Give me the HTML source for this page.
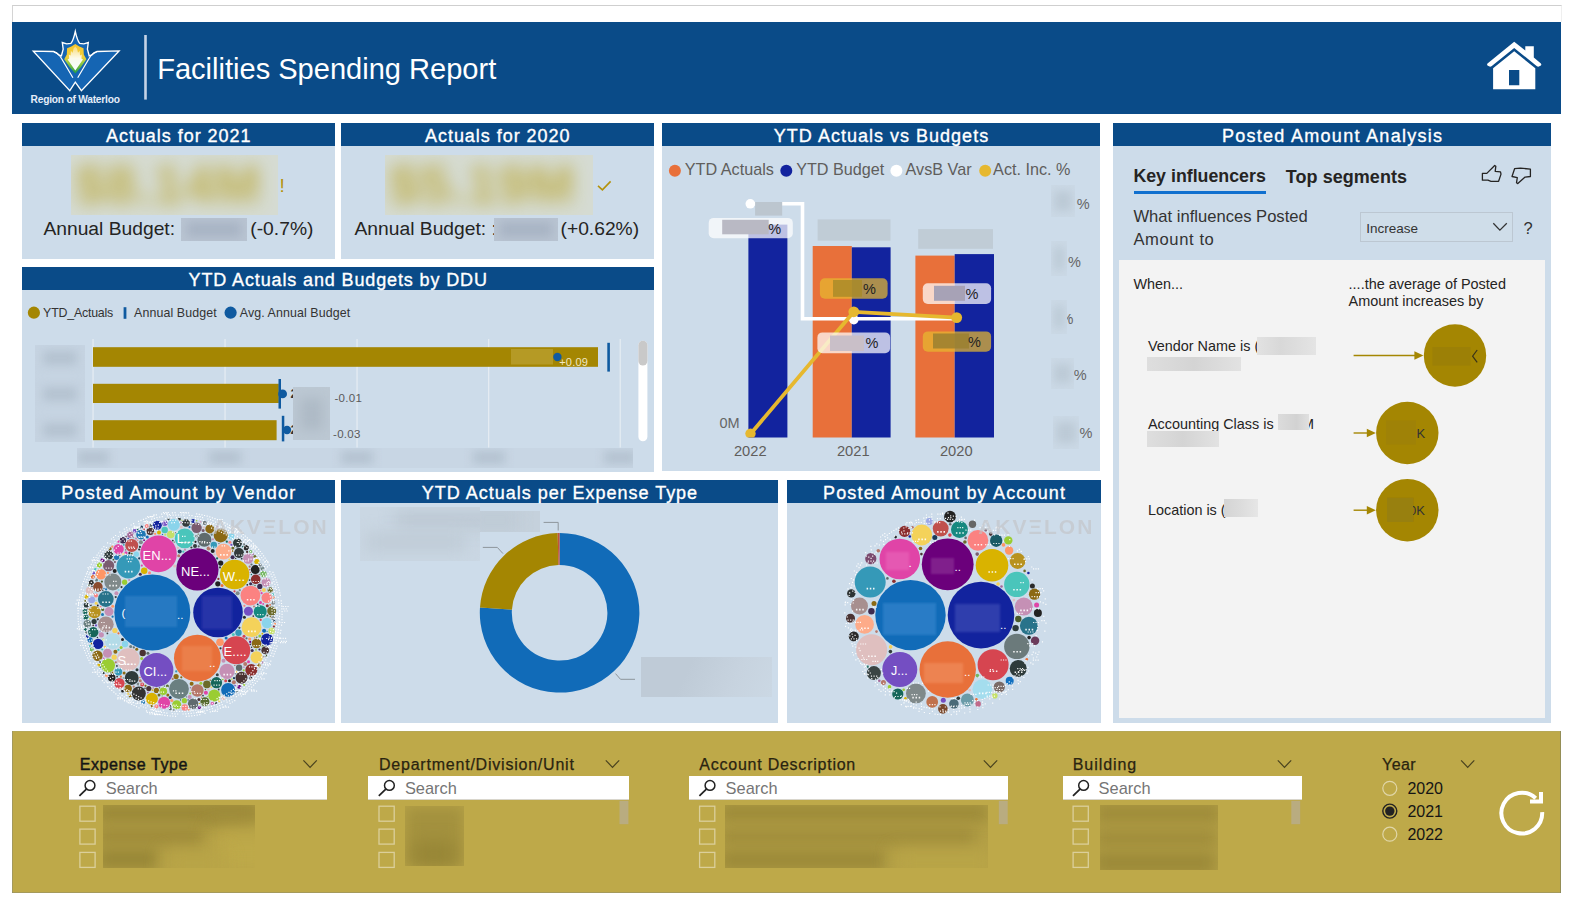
<!DOCTYPE html>
<html>
<head>
<meta charset="utf-8">
<title>Facilities Spending Report</title>
<style>
*{box-sizing:border-box;margin:0;padding:0}
html,body{width:1570px;height:905px;background:#fff;overflow:hidden;font-family:"Liberation Sans",sans-serif;}
.abs{position:absolute}
#frame{position:absolute;left:12px;top:5px;width:1550px;height:17px;border-top:1px solid #cfcfcf;border-left:1px solid #d4d4d4;border-right:1px solid #efefef;background:#fff}
#hdr{position:absolute;left:12px;top:22px;width:1549px;height:92px;background:#0a4b88}
.panel{position:absolute;background:#cddcea}
.ptitle{position:absolute;left:0;top:0;right:0;height:22.5px;background:#0a4b88;color:#fff;font-size:18px;line-height:26px;text-align:center;letter-spacing:0.85px;white-space:nowrap;-webkit-text-stroke:0.35px #fff}
.t{position:absolute;white-space:nowrap;line-height:1}
.blur{position:absolute;overflow:hidden}
#gold{position:absolute;left:12px;top:731px;width:1549px;height:162.3px;background:#bea949;box-shadow:inset 1px 0 0 rgba(140,140,110,.55),inset -1px 0 0 rgba(120,125,95,.6),inset 0 -1px 0 rgba(140,140,110,.5),inset 0 1px 0 rgba(170,165,110,.35)}
</style>
</head>
<body>
<div id="frame"></div>
<div id="hdr">
<svg class="abs" style="left:0;top:0" width="160" height="92" viewBox="12 22 160 92">
  <!-- W logo -->
  <defs>
    <linearGradient id="lg1" x1="0" y1="0" x2="0" y2="1"><stop offset="0" stop-color="#f6c52e"/><stop offset=".45" stop-color="#f1cf3a"/><stop offset=".62" stop-color="#9ccb3f"/><stop offset="1" stop-color="#1f9d4a"/></linearGradient>
    <linearGradient id="lg2" x1="0" y1="0" x2="0" y2="1"><stop offset="0" stop-color="#fff" stop-opacity=".35"/><stop offset=".5" stop-color="#fff" stop-opacity=".9"/><stop offset="1" stop-color="#fff"/></linearGradient>
  </defs>
  <path d="M33.3 51.1 L53.5 51.5 Q57 52.6 58.9 55 L61.4 55.8 L63.2 49.2 L62.3 42.5 L66.7 43.9 L70.9 43.4 Q73.4 40.4 75.3 31.4 Q77.2 40.4 79.7 43.4 L83.9 43.9 L88.3 42.5 L87.4 49.2 L89.2 55.8 L91.7 55 Q93.6 52.6 97.1 51.5 L119.1 50.9 L81.4 90.6 L75.3 82.1 L69.8 90.6 Z" fill="#1565b3" stroke="#fff" stroke-width="1.35" stroke-linejoin="miter" stroke-miterlimit="6"/>
  <path d="M54 52 Q58.8 53.4 61.5 58.5 L72.9 77.7" fill="none" stroke="#fff" stroke-width="1.2"/>
  <path d="M96.6 52 Q91.8 53.4 89.1 58.5 L77.7 77.7" fill="none" stroke="#fff" stroke-width="1.2"/>
  <path d="M75.3 44 L71.3 46.4 L67.1 48.3 L66.8 54.6 L64.2 59.3 L69.8 67.2 L75.3 73.6 L80.8 67.2 L86.4 59.3 L83.8 54.6 L83.5 48.3 L79.3 46.4 Z" fill="url(#lg1)"/>
  <path d="M75.3 70.6 L67.6 59.6 L69.2 58.4 L68.8 54.5 L70.6 55.5 L70.9 50.8 L72.6 52.8 L73.6 48.6 L75.3 46.5 L77 48.6 L78 52.8 L79.7 50.8 L80 55.5 L81.8 54.5 L81.4 58.4 L83 59.6 Z" fill="url(#lg2)"/>
  <rect x="144.2" y="35" width="2.6" height="64.6" fill="#c5d3e6"/>
</svg>
<div class="t" style="left:18.6px;top:72.6px;font-size:10.2px;font-weight:bold;color:#e6eefa;letter-spacing:-0.22px">Region of Waterloo</div>
<div class="t" style="left:145.2px;top:32.9px;font-size:29.05px;color:#fff">Facilities Spending Report</div>
<svg class="abs" style="left:1470px;top:8px" width="80" height="70" viewBox="1482 30 80 70">
  <path d="M1514.2 41.8 L1525.3 50.6 L1525.3 46.2 L1533.8 46.2 L1533.8 57.4 L1540.9 63.6 Q1541.9 64.8 1540.5 65.8 L1538.8 66.6 Q1537.6 66.8 1536.6 66 L1514.2 47.9 L1491.8 66 Q1490.8 66.8 1489.6 66.6 L1487.9 65.8 Q1486.5 64.8 1487.5 63.6 Z" fill="#fff"/>
  <path d="M1514.2 51.2 L1535.3 68.3 L1535.3 89.2 L1493.1 89.2 L1493.1 68.3 Z M1509 70 L1509 85.3 L1519.3 85.3 L1519.3 70 Z" fill="#fff" fill-rule="evenodd"/>
</svg>
</div>

<!-- PANELS -->
<div class="panel" id="p1" style="left:22px;top:123px;width:312.5px;height:136px"><div class="ptitle" style="letter-spacing:0.96px;padding-left:0.96px">Actuals for 2021</div>
<div class="blur" style="left:49px;top:31.5px;width:207px;height:60px;background:#d5dbd2"><div class="t" style="left:4px;top:2px;font-size:54px;font-weight:bold;color:#bba83a;filter:blur(8.5px);opacity:.85;letter-spacing:1px">$8.14M</div></div>
<div class="t" style="left:257.5px;top:52.5px;font-size:19px;color:#b4920a">!</div>
<div class="t" style="left:21.4px;top:95.8px;font-size:19.25px;color:#252423">Annual Budget:</div>
<div class="blur" style="left:159px;top:95px;width:66px;height:23px;background:#b9c4d2"><div class="abs" style="left:6px;top:4px;width:54px;height:15px;background:#a8b4c4;filter:blur(5px)"></div></div>
<div class="t" style="left:228.3px;top:95.8px;font-size:19.25px;color:#252423">(-0.7%)</div>
</div>
<div class="panel" id="p2" style="left:341px;top:123px;width:312.5px;height:136px"><div class="ptitle" style="letter-spacing:0.96px;padding-left:0.96px">Actuals for 2020</div>
<div class="blur" style="left:44px;top:32px;width:208px;height:60px;background:#d5dbd2"><div class="t" style="left:4px;top:2px;font-size:54px;font-weight:bold;color:#bba83a;filter:blur(8.5px);opacity:.85;letter-spacing:1px">$5.19M</div></div>
<svg class="abs" style="left:255.5px;top:57px" width="16" height="12" viewBox="0 0 16 12"><path d="M1 5.8 L5.4 9.8 L13.6 1.4" fill="none" stroke="#b4920a" stroke-width="1.6"/></svg>
<div class="t" style="left:13.5px;top:95.8px;font-size:19.25px;color:#252423">Annual Budget: :</div>
<div class="blur" style="left:153px;top:95px;width:64px;height:23px;background:#b9c4d2"><div class="abs" style="left:6px;top:4px;width:52px;height:15px;background:#a8b4c4;filter:blur(5px)"></div></div>
<div class="t" style="left:219.5px;top:95.8px;font-size:19.25px;color:#252423">(+0.62%)</div>
</div>
<div class="panel" id="p3" style="left:662px;top:123px;width:438px;height:348px"><div class="ptitle" style="letter-spacing:1.01px;padding-left:1.01px">YTD Actuals vs Budgets</div>
<svg class="abs" style="left:0;top:0" width="438" height="348" viewBox="662 123 438 348">
<circle cx="674.9" cy="170.8" r="6" fill="#e8703a"/>
<circle cx="786.3" cy="170.8" r="6" fill="#12239e"/>
<circle cx="896.4" cy="170.8" r="6" fill="#fff"/>
<circle cx="985.2" cy="170.8" r="6" fill="#e6b82f"/>
<rect x="748.4" y="224.6" width="39" height="212.9" fill="#12239e"/>
<rect x="812.7" y="246" width="39.1" height="191.5" fill="#e8703a"/>
<rect x="851.8" y="247.3" width="38.8" height="190.2" fill="#12239e"/>
<rect x="915.4" y="255.6" width="39.3" height="181.9" fill="#e8703a"/>
<rect x="954.7" y="254.1" width="39.3" height="183.4" fill="#12239e"/>
<rect x="817.6" y="219.4" width="72.9" height="21.3" fill="#c0ccd6"/>
<rect x="918.2" y="229.1" width="74.8" height="19.7" fill="#c0ccd6"/>
<path d="M750.3 203.8 L802.5 203.8 L802.5 318.8 L957 318.8" fill="none" stroke="#fff" stroke-width="3.6" stroke-linejoin="miter"/>
<circle cx="750.3" cy="203.8" r="4.8" fill="#fff"/>
<circle cx="853.8" cy="319.6" r="4.8" fill="#fff"/>
<rect x="755.1" y="202" width="27.1" height="13.6" fill="#bcc6cf"/>
<clipPath id="cpb"><rect x="662" y="150" width="438" height="287.6"/></clipPath><path d="M750.5 434 L853.8 311.8 L956.7 317.6" fill="none" stroke="#e6b82f" stroke-width="3.8" stroke-linejoin="round"/>
<circle cx="750.5" cy="433.6" r="5.2" fill="#e6b82f" clip-path="url(#cpb)"/>
<circle cx="853.8" cy="311.8" r="5.4" fill="#e6b82f"/>
<circle cx="956.7" cy="317.6" r="5.4" fill="#e6b82f"/>
<rect x="708.7" y="217.9" width="84.1" height="20.3" rx="5" fill="#fff" fill-opacity=".72"/>
<rect x="722.2" y="219.8" width="46.5" height="14.5" fill="#b9b9c4"/>
<rect x="819.9" y="278.2" width="67.7" height="20.5" rx="5" fill="#e6b82f" fill-opacity=".72"/>
<rect x="833" y="280" width="29" height="16.8" fill="#a88a28" fill-opacity=".8"/>
<rect x="922.8" y="283.3" width="68.3" height="20.7" rx="5" fill="#fff" fill-opacity=".72"/>
<rect x="934" y="285.8" width="31" height="15" fill="#a7a2b6"/>
<rect x="817.4" y="332.4" width="72.7" height="20.9" rx="5" fill="#fff" fill-opacity=".72"/>
<rect x="830" y="335.5" width="34" height="15.5" fill="#c9bfc8"/>
<rect x="922.8" y="331.4" width="68.3" height="20.3" rx="5" fill="#e6b82f" fill-opacity=".72"/>
<rect x="933" y="333.5" width="36" height="15" fill="#9a8030" fill-opacity=".85"/>
</svg>
<div class="t" style="left:22.8px;top:38.1px;font-size:16.2px;color:#605e5c">YTD Actuals</div>
<div class="t" style="left:134.2px;top:38.1px;font-size:16.2px;color:#605e5c">YTD Budget</div>
<div class="t" style="left:243.6px;top:38.1px;font-size:16.2px;color:#605e5c">AvsB Var</div>
<div class="t" style="left:331.1px;top:38.1px;font-size:16.2px;color:#605e5c">Act. Inc. %</div>
<div class="t" style="left:106.2px;top:99px;font-size:14.5px;color:#222">%</div>
<div class="t" style="left:201px;top:158.5px;font-size:14.5px;color:#222">%</div>
<div class="t" style="left:303.5px;top:164px;font-size:14.5px;color:#222">%</div>
<div class="t" style="left:203.5px;top:213px;font-size:14.5px;color:#222">%</div>
<div class="t" style="left:306px;top:212px;font-size:14.5px;color:#222">%</div>
<div class="t" style="left:57.5px;top:293px;font-size:14.5px;color:#666">0M</div>
<div class="t" style="left:71.3px;top:321.3px;width:34px;text-align:center;font-size:14.7px;color:#605e5c">2022</div>
<div class="t" style="left:174.3px;top:321.3px;width:34px;text-align:center;font-size:14.7px;color:#605e5c">2021</div>
<div class="t" style="left:277.3px;top:321.3px;width:34px;text-align:center;font-size:14.7px;color:#605e5c">2020</div>
<div class="t" style="left:414.8px;top:74.4px;font-size:14.5px;color:#666">%</div>
<div class="blur" style="left:388.7px;top:61.8px;width:24.7px;height:32.1px;background:#cbd9e6"><div class="abs" style="left:3px;top:6px;width:18.7px;height:20.1px;background:#bccad6;filter:blur(4px)"></div></div>
<div class="t" style="left:406px;top:131.5px;font-size:14.5px;color:#666">%</div>
<div class="blur" style="left:388.7px;top:118px;width:16.6px;height:35px;background:#cbd9e6"><div class="abs" style="left:3px;top:6px;width:10.6px;height:23px;background:#bccad6;filter:blur(4px)"></div></div>
<div class="t" style="left:398.5px;top:189.2px;font-size:14.5px;color:#666">%</div>
<div class="blur" style="left:388.7px;top:177px;width:16.6px;height:34px;background:#cbd9e6"><div class="abs" style="left:3px;top:6px;width:10.6px;height:22px;background:#bccad6;filter:blur(4px)"></div></div>
<div class="t" style="left:411.8px;top:245.3px;font-size:14.5px;color:#666">%</div>
<div class="blur" style="left:388.7px;top:235px;width:23.7px;height:30.5px;background:#cbd9e6"><div class="abs" style="left:3px;top:6px;width:17.7px;height:18.5px;background:#bccad6;filter:blur(4px)"></div></div>
<div class="t" style="left:417.6px;top:303.1px;font-size:14.5px;color:#666">%</div>
<div class="blur" style="left:391px;top:292.7px;width:25.6px;height:33.7px;background:#cbd9e6"><div class="abs" style="left:3px;top:6px;width:19.6px;height:21.7px;background:#bccad6;filter:blur(4px)"></div></div>
</div>
<div class="panel" id="p4" style="left:1113px;top:123px;width:438px;height:600px"><div class="ptitle" style="letter-spacing:1.29px;padding-left:1.29px">Posted Amount Analysis</div>
<div class="abs" style="left:6px;top:137.4px;width:426.29999999999995px;height:457.20000000000005px;background:#f3f3f3"></div>
<div class="t" style="left:20.4px;top:45.4px;font-size:17.8px;font-weight:bold;color:#252423">Key influencers</div>
<div class="abs" style="left:20.6px;top:68px;width:132.6px;height:2.8px;background:#1170cf"></div>
<div class="t" style="left:172.8px;top:45.4px;font-size:18px;font-weight:bold;color:#252423;letter-spacing:.05px">Top segments</div>
<div class="t" style="left:20.4px;top:86.0px;font-size:16.6px;color:#333">What influences Posted</div>
<div class="t" style="left:20.4px;top:109.1px;font-size:16.6px;color:#333;letter-spacing:.6px">Amount to</div>
<div class="abs" style="left:247.4px;top:88.8px;width:152.3px;height:30.4px;border:1px solid #bcc7d2;background:#cfdde9"></div>
<div class="t" style="left:253.2px;top:98.8px;font-size:13.5px;color:#333">Increase</div>
<div class="t" style="left:410.6px;top:97.4px;font-size:16.5px;color:#333">?</div>
<svg class="abs" style="left:0;top:0" width="438" height="600" viewBox="1113 123 438 600">
<path d="M1482.4 180.2 L1482.4 173.4 L1486.8 173.4 L1494.7 165.5 L1495.8 166.3 L1495.2 171.3 L1500.5 171.8 L1501 174.1 L1498.6 181.3 L1491 181.3 L1487.9 180.2 Z" fill="none" stroke="#252423" stroke-width="1.3" stroke-linejoin="round"/>
<path d="M1512 176.5 L1514.6 168.7 L1520.4 168.1 L1530.4 169.2 L1530.4 176.5 L1525.1 177.1 L1517.8 183.6 L1516.5 182.8 L1517.3 177.6 Z" fill="none" stroke="#252423" stroke-width="1.3" stroke-linejoin="round"/>
<path d="M1493.3 223.3 L1499.9 230.1 L1506.8 223.3" fill="none" stroke="#333" stroke-width="1.3"/>
<path d="M1353.6 355.5 L1417.4 355.5" stroke="#a48602" stroke-width="1.4" fill="none"/><path d="M1423.4 355.5 L1414.4 351.3 L1414.4 359.7 Z" fill="#a48602"/>
<path d="M1353.6 433 L1369.8 433" stroke="#a48602" stroke-width="1.4" fill="none"/><path d="M1375.8 433 L1366.8 428.8 L1366.8 437.2 Z" fill="#a48602"/>
<path d="M1353.6 510.2 L1369.8 510.2" stroke="#a48602" stroke-width="1.4" fill="none"/><path d="M1375.8 510.2 L1366.8 506.0 L1366.8 514.4 Z" fill="#a48602"/>
<circle cx="1455" cy="355.5" r="31.2" fill="#a48602"/>
<circle cx="1407.3" cy="433" r="31.2" fill="#a48602"/>
<circle cx="1407.3" cy="510.2" r="31.2" fill="#a48602"/>
<rect x="1432.5" y="347" width="38" height="18.5" fill="#9a7e08" fill-opacity=".75"/><path d="M1477.2 350 L1472.6 356.2 L1477.2 362.4" fill="none" stroke="#3a3418" stroke-width="1.2"/>
<rect x="1386" y="420.5" width="30" height="24" fill="#9c800a" fill-opacity=".7"/>
<rect x="1387.2" y="497.7" width="26.3" height="24.2" fill="#94790a" fill-opacity=".85"/>
</svg>

<div class="t" style="left:303.6px;top:303.5px;font-size:13px;color:#333">K</div>
<div class="t" style="left:296px;top:380.6px;font-size:13px;color:#333">0K</div>
<div class="abs" style="left:274.2px;top:374.7px;width:26.3px;height:24.2px;background:#98800f"></div>
<div class="t" style="left:20.4px;top:153.6px;font-size:14.4px;color:#252423">When...</div>
<div class="t" style="left:235.6px;top:153.6px;font-size:14.45px;color:#252423">....the average of Posted</div>
<div class="t" style="left:235.6px;top:170.6px;font-size:14.45px;color:#252423">Amount increases by</div>
<div class="t" style="left:35px;top:216.3px;font-size:14.4px;color:#252423">Vendor Name is (</div>
<div class="abs" style="left:144px;top:213.8px;width:58.8px;height:18.7px;background:linear-gradient(90deg,#e2e2e2,#d8d8d8 40%,#e4e4e4)"></div>
<div class="abs" style="left:33.8px;top:233.7px;width:94.2px;height:13.9px;background:linear-gradient(90deg,#dedede,#d4d4d4 50%,#e2e2e2)"></div>
<div class="t" style="left:35px;top:294px;font-size:14.4px;color:#252423">Accounting Class is</div>
<div class="t" style="left:189px;top:294px;font-size:14.4px;color:#252423">M</div>
<div class="abs" style="left:165px;top:290.6px;width:30.7px;height:16.7px;background:linear-gradient(90deg,#dcdcdc,#d2d2d2 60%,#e0e0e0)"></div>
<div class="abs" style="left:33.8px;top:308px;width:72.4px;height:16px;background:linear-gradient(90deg,#dedede,#d4d4d4 50%,#e2e2e2)"></div>
<div class="t" style="left:35px;top:379.8px;font-size:14.4px;color:#252423">Location is (</div>
<div class="abs" style="left:111px;top:375.7px;width:33.5px;height:18.5px;background:linear-gradient(90deg,#d4d4d4,#dcdcdc 50%,#e6e6e6)"></div>
</div>
<div class="panel" id="p5" style="left:22px;top:267px;width:631.5px;height:205px"><div class="ptitle" style="letter-spacing:0.87px;padding-left:0.87px">YTD Actuals and Budgets by DDU</div>
<svg class="abs" style="left:0;top:0" width="631.5" height="205" viewBox="22 267 631.5 205">
<circle cx="33.9" cy="312.7" r="6.1" fill="#a48602"/>
<rect x="123.6" y="307.2" width="2.8" height="11.6" fill="#0f5aa0"/>
<circle cx="230.6" cy="312.7" r="6.1" fill="#0f5aa0"/>
<rect x="92.4" y="339" width="1.3" height="108.5" fill="#e4ebf2"/>
<rect x="224.4" y="339" width="1.3" height="108.5" fill="#e4ebf2"/>
<rect x="356.4" y="339" width="1.3" height="108.5" fill="#e4ebf2"/>
<rect x="488.0" y="339" width="1.3" height="108.5" fill="#e4ebf2"/>
<rect x="619.6" y="339" width="1.3" height="108.5" fill="#e4ebf2"/>
<rect x="93" y="347.2" width="505" height="19.6" fill="#a48602"/>
<rect x="93" y="383.8" width="185.8" height="19.2" fill="#a48602"/>
<rect x="93" y="420.2" width="183.6" height="20" fill="#a48602"/>
<rect x="511" y="349" width="42" height="15.5" fill="#b59a25"/>
<rect x="607.3" y="342.8" width="2.6" height="28.8" fill="#0f5aa0"/>
<circle cx="557.4" cy="357" r="4.2" fill="#0f5aa0"/>
<rect x="278.5" y="379" width="2.5" height="29.6" fill="#0f5aa0"/>
<circle cx="282.6" cy="393.9" r="4.4" fill="#0f5aa0"/>
<rect x="281.8" y="415.8" width="2.5" height="25.6" fill="#0f5aa0"/>
<circle cx="287" cy="430" r="4.2" fill="#0f5aa0"/>
<rect x="638.4" y="340.8" width="9" height="100.4" rx="4.5" fill="#fff"/>
<rect x="638.4" y="340.8" width="9" height="24.8" rx="4.5" fill="#c9c9c9"/>
</svg>
<div class="t" style="left:21.1px;top:40px;font-size:12.4px;color:#333;letter-spacing:-.22px">YTD_Actuals</div>
<div class="t" style="left:112.1px;top:40px;font-size:12.4px;color:#333;letter-spacing:.1px">Annual Budget</div>
<div class="t" style="left:217.8px;top:40px;font-size:12.4px;color:#333;letter-spacing:.1px">Avg. Annual Budget</div>
<div class="t" style="left:537.2px;top:89.5px;font-size:11px;color:#f1e8c4;letter-spacing:.2px">+0.09</div>
<div class="t" style="left:268.5px;top:120px;font-size:13px;font-weight:bold;color:#333">2</div>
<div class="t" style="left:268.5px;top:156px;font-size:13px;font-weight:bold;color:#333">2</div>
<div class="t" style="left:312.4px;top:126px;font-size:11.5px;color:#5a5a5a;letter-spacing:.3px">-0.01</div>
<div class="t" style="left:311px;top:162px;font-size:11.5px;color:#5a5a5a;letter-spacing:.3px">-0.03</div>
<div class="blur" style="left:271px;top:120.2px;width:36.8px;height:53.1px;background:#bcc8d3"><div class="abs" style="left:6.6px;top:10.6px;width:23.6px;height:31.9px;background:#aebac6;filter:blur(6px)"></div></div>
<div class="blur" style="left:13px;top:77.8px;width:50px;height:97.6px;background:#c6d4e2"><div class="abs" style="left:8px;top:6px;width:34px;height:14px;background:#b4c2d0;filter:blur(5px)"></div><div class="abs" style="left:8px;top:42px;width:34px;height:14px;background:#b4c2d0;filter:blur(5px)"></div><div class="abs" style="left:8px;top:78px;width:34px;height:14px;background:#b4c2d0;filter:blur(5px)"></div></div>
<div class="blur" style="left:55.3px;top:181px;width:555.3px;height:19.6px;background:#c8d6e4"><div class="abs" style="left:-0.3px;top:3px;width:32px;height:13px;background:#b4c2d0;filter:blur(5px)"></div><div class="abs" style="left:131.7px;top:3px;width:32px;height:13px;background:#b4c2d0;filter:blur(5px)"></div><div class="abs" style="left:263.7px;top:3px;width:32px;height:13px;background:#b4c2d0;filter:blur(5px)"></div><div class="abs" style="left:395.3px;top:3px;width:32px;height:13px;background:#b4c2d0;filter:blur(5px)"></div><div class="abs" style="left:526.9px;top:3px;width:32px;height:13px;background:#b4c2d0;filter:blur(5px)"></div></div>
</div>
<div class="panel" id="p6" style="left:22px;top:480px;width:312.5px;height:243px"><div class="ptitle" style="letter-spacing:1.17px;padding-left:1.17px">Posted Amount by Vendor</div>
<!--Bp6--><svg class="abs" style="left:0;top:0" width="312.5" height="243" viewBox="22 480 312.5 243"><circle cx="152.3" cy="612.5" r="38" fill="#116bb8"/><circle cx="218" cy="612.5" r="24.8" fill="#12239e"/><circle cx="197.4" cy="658.2" r="23.4" fill="#e8703a"/><circle cx="197.4" cy="569.4" r="21.1" fill="#6b007b"/><circle cx="158.5" cy="553.9" r="18.3" fill="#e044a7"/><circle cx="156.5" cy="670" r="16.9" fill="#744ec2"/><circle cx="234.6" cy="574.5" r="14.7" fill="#d9b300"/><circle cx="236.3" cy="650.3" r="14" fill="#d64550"/><circle cx="128.3" cy="566.6" r="11.8" fill="#3599b8"/><circle cx="128.3" cy="659.6" r="11.3" fill="#dfbfbf"/><circle cx="184.7" cy="538.4" r="9.9" fill="#4ac5bb"/><circle cx="204.4" cy="539.8" r="7" fill="#5f6b6d"/><circle cx="250.4" cy="595.6" r="9.9" fill="#fb8281"/><circle cx="251.5" cy="627.2" r="9.9" fill="#f4d25a"/><circle cx="223.6" cy="551.6" r="7.9" fill="#fdab89"/><circle cx="112.8" cy="582" r="8.5" fill="#7f898a"/><circle cx="105.8" cy="599" r="7.9" fill="#28738a"/><circle cx="105.8" cy="624.3" r="7.9" fill="#a78f8f"/><circle cx="112.8" cy="641.2" r="7.9" fill="#b3dbe8"/><circle cx="179" cy="689" r="9.9" fill="#6a7f80"/><circle cx="197.4" cy="690.5" r="6.2" fill="#b6776a"/><circle cx="131.7" cy="677.9" r="7" fill="#2e3b3b"/><circle cx="227" cy="671.4" r="7.6" fill="#c590b5"/><circle cx="216.5" cy="682.7" r="5.6" fill="#16665a"/><circle cx="260.2" cy="611.7" r="6.5" fill="#168980"/><circle cx="131.7" cy="545.4" r="6.5" fill="#c0504d"/><circle cx="141" cy="534.7" r="4.8" fill="#1f77b4"/><circle cx="239" cy="553" r="5" fill="#333b3b"/><circle cx="255.7" cy="579.3" r="4.8" fill="#8b2e2e"/><circle cx="256.5" cy="643.5" r="4.8" fill="#8b6914"/><circle cx="94.5" cy="612.2" r="6.2" fill="#b8921e"/><circle cx="97.9" cy="586.9" r="4.8" fill="#8b4a2e"/><circle cx="108.6" cy="565.7" r="5.6" fill="#7a5c6e"/><circle cx="91.7" cy="599.8" r="3.4" fill="#9ba8e6"/><circle cx="108.0" cy="665.5" r="7" fill="#9acd32"/><circle cx="228.1" cy="689.9" r="7" fill="#116bb8"/><circle cx="220.7" cy="535.4" r="7" fill="#8b6914"/><circle cx="138.8" cy="693.5" r="7" fill="#333"/><circle cx="173.8" cy="524.7" r="6" fill="#8ad4eb"/><circle cx="256.6" cy="657.3" r="6" fill="#f4d25a"/><circle cx="164.1" cy="702.8" r="6" fill="#e044a7"/><circle cx="151.9" cy="698.7" r="6" fill="#d9b300"/><circle cx="214.3" cy="695.6" r="6" fill="#9acd32"/><circle cx="267.0" cy="639.4" r="6" fill="#12239e"/><circle cx="241.5" cy="677.8" r="6" fill="#4a3333"/><circle cx="251.3" cy="669.9" r="6" fill="#8b2e2e"/><circle cx="248.2" cy="558.6" r="5.2" fill="#c590b5"/><circle cx="118.6" cy="549.1" r="5.2" fill="#e044a7"/><circle cx="193.1" cy="703.7" r="5.2" fill="#5f6b6d"/><circle cx="97.5" cy="655.8" r="5.2" fill="#8b6914"/><circle cx="100.9" cy="574.3" r="5.2" fill="#fe9666"/><circle cx="93.3" cy="632.1" r="5.2" fill="#16665a"/><circle cx="119.4" cy="683.3" r="5.2" fill="#d64550"/><circle cx="267.0" cy="623.0" r="5.2" fill="#8ad4eb"/><circle cx="196.6" cy="527.8" r="5.2" fill="#7a5c6e"/><circle cx="98.1" cy="643.9" r="5.2" fill="#12239e"/><circle cx="266.7" cy="597.8" r="5.2" fill="#fb8281"/><circle cx="209.8" cy="528.9" r="4.5" fill="#8b6914"/><circle cx="108.7" cy="555.0" r="4.5" fill="#2e3b3b"/><circle cx="157.3" cy="525.3" r="4.5" fill="#12239e"/><circle cx="237.5" cy="543.0" r="4.5" fill="#2e3b3b"/><circle cx="266.1" cy="582.2" r="4.5" fill="#c590b5"/><circle cx="255.3" cy="569.6" r="4.5" fill="#222"/><circle cx="271.7" cy="611.0" r="4.5" fill="#6b6b2a"/><circle cx="204.9" cy="701.7" r="4.5" fill="#556b2f"/><circle cx="248.4" cy="611.3" r="4.5" fill="#744ec2"/><circle cx="176.7" cy="704.7" r="4.5" fill="#9acd32"/><circle cx="107.5" cy="653.2" r="4.5" fill="#c590b5"/><circle cx="109.0" cy="611.6" r="4.5" fill="#c590b5"/><circle cx="89.6" cy="590.6" r="3.8" fill="#dfbfbf"/><circle cx="265.2" cy="650.2" r="3.8" fill="#4a3333"/><circle cx="118.4" cy="671.7" r="3.8" fill="#3599b8"/><circle cx="206.9" cy="684.4" r="3.8" fill="#6b6b2a"/><circle cx="87.3" cy="623.8" r="3.8" fill="#6a7f80"/><circle cx="186.0" cy="523.0" r="3.8" fill="#333b3b"/><circle cx="163.3" cy="691.2" r="3.8" fill="#9acd32"/><circle cx="150.3" cy="531.3" r="3.8" fill="#4a3333"/><circle cx="170.7" cy="534.5" r="3.8" fill="#c5e06a"/><circle cx="111.7" cy="677.8" r="3.8" fill="#222"/><circle cx="220.0" cy="642.2" r="3.8" fill="#fe9666"/><circle cx="128.1" cy="688.5" r="3.8" fill="#8b6914"/><circle cx="238.5" cy="632.8" r="3.2" fill="#3599b8"/><circle cx="239.1" cy="667.7" r="3.2" fill="#5f6b6d"/><circle cx="213.8" cy="545.0" r="3.2" fill="#3599b8"/><circle cx="144.2" cy="570.7" r="3.2" fill="#d9b300"/><circle cx="164.7" cy="530.0" r="3.2" fill="#4ac5bb"/><circle cx="142.7" cy="653.0" r="3.2" fill="#4a3333"/><circle cx="184.8" cy="707.5" r="3.2" fill="#fb8281"/><circle cx="130.4" cy="534.8" r="3.2" fill="#a66999"/><circle cx="271.6" cy="630.9" r="3.2" fill="#c5e06a"/><circle cx="125.0" cy="644.0" r="3.2" fill="#8ad4eb"/><circle cx="263.5" cy="574.1" r="3.2" fill="#73b761"/><circle cx="231.5" cy="536.6" r="3.2" fill="#8ad4eb"/><circle cx="123.0" cy="540.3" r="3.2" fill="#3d2b4f"/><circle cx="86.3" cy="605.1" r="2.6" fill="#2e3b3b"/><circle cx="90.1" cy="639.8" r="2.6" fill="#116bb8"/><circle cx="217.8" cy="583.8" r="2.6" fill="#222"/><circle cx="85.9" cy="617.1" r="2.6" fill="#16665a"/><circle cx="148.8" cy="688.6" r="2.6" fill="#4a3333"/><circle cx="259.8" cy="586.4" r="2.6" fill="#3d2b4f"/><circle cx="220.7" cy="563.1" r="2.6" fill="#222"/><circle cx="91.3" cy="582.6" r="2.6" fill="#333"/><circle cx="136.4" cy="554.2" r="2.6" fill="#8ad4eb"/><circle cx="184.4" cy="700.7" r="2.6" fill="#9acd32"/><circle cx="270.2" cy="589.9" r="2.6" fill="#6b6b2a"/><circle cx="101.3" cy="634.8" r="2.6" fill="#c590b5"/><circle cx="164.8" cy="523.2" r="2.6" fill="#744ec2"/><circle cx="176.1" cy="676.5" r="2.6" fill="#8b6914"/><circle cx="246.2" cy="547.7" r="2.6" fill="#2a2a2a"/><circle cx="99.5" cy="565.1" r="2.6" fill="#9acd32"/><circle cx="156.4" cy="690.4" r="2.6" fill="#8b6914"/><circle cx="114.9" cy="630.5" r="2.6" fill="#f4d25a"/><circle cx="124.6" cy="582.2" r="2.6" fill="#9acd32"/><circle cx="114.2" cy="657.2" r="2.6" fill="#f4d25a"/><circle cx="85.2" cy="611.4" r="2.6" fill="#16665a"/><circle cx="116.6" cy="557.3" r="2.6" fill="#1f77b4"/><circle cx="256.8" cy="561.5" r="2.6" fill="#d9b300"/><circle cx="94.1" cy="621.5" r="2.6" fill="#2e3b3b"/><circle cx="273.2" cy="602.8" r="2.0" fill="#7f898a"/><circle cx="263.9" cy="590.0" r="2.0" fill="#f4d25a"/><circle cx="212.7" cy="550.9" r="2.0" fill="#222"/><circle cx="191.6" cy="683.7" r="2.0" fill="#8b6914"/><circle cx="237.6" cy="593.3" r="2.0" fill="#7f898a"/><circle cx="116.4" cy="593.3" r="2.0" fill="#c590b5"/><circle cx="264.1" cy="630.8" r="2.0" fill="#116bb8"/><circle cx="195.0" cy="546.0" r="2.0" fill="#333b3b"/><circle cx="179.7" cy="551.5" r="2.0" fill="#1a3a5a"/><circle cx="245.2" cy="664.0" r="2.0" fill="#b6776a"/><circle cx="233.9" cy="682.2" r="2.0" fill="#b6776a"/><circle cx="146.8" cy="526.1" r="2.0" fill="#fb8281"/><circle cx="102.5" cy="560.3" r="2.0" fill="#6b007b"/><circle cx="239.2" cy="686.7" r="2.0" fill="#6b007b"/><circle cx="159.0" cy="532.4" r="2.0" fill="#d9b300"/><circle cx="142.1" cy="684.5" r="2.0" fill="#d64550"/><circle cx="86.4" cy="596.8" r="2.0" fill="#d9b300"/><circle cx="258.9" cy="665.5" r="2.0" fill="#8b6914"/><circle cx="140.9" cy="542.3" r="2.0" fill="#7f898a"/><circle cx="262.2" cy="568.6" r="2.0" fill="#6a7f80"/><circle cx="115.4" cy="651.7" r="2.0" fill="#8b6914"/><circle cx="205.9" cy="692.7" r="2.0" fill="#e044a7"/><circle cx="143.2" cy="702.1" r="2.0" fill="#1f77b4"/><circle cx="189.7" cy="696.9" r="2.0" fill="#c590b5"/><circle cx="204.7" cy="523.1" r="2.0" fill="#5f6b6d"/><circle cx="273.0" cy="618.0" r="2.0" fill="#7f898a"/><circle cx="134.7" cy="530.8" r="2.0" fill="#744ec2"/><circle cx="92.8" cy="576.7" r="2.0" fill="#e8703a"/><circle cx="232.6" cy="557.2" r="2.0" fill="#3d2b4f"/><circle cx="223.5" cy="660.7" r="2.0" fill="#c590b5"/><circle cx="223.1" cy="698.2" r="2.0" fill="#dfbfbf"/><circle cx="193.1" cy="521.1" r="2.0" fill="#12239e"/><circle cx="208.6" cy="548.4" r="2.0" fill="#b6776a"/><circle cx="96.0" cy="595.6" r="2.0" fill="#fb8281"/><circle cx="91.7" cy="649.5" r="2.0" fill="#73b761"/><circle cx="114.7" cy="571.1" r="2.0" fill="#222"/><circle cx="156.4" cy="706.4" r="2.0" fill="#fb8281"/><circle cx="217.3" cy="674.8" r="1.5" fill="#3a4444"/><circle cx="106.3" cy="675.7" r="1.5" fill="#fe9666"/><circle cx="248.5" cy="661.7" r="1.5" fill="#e044a7"/><circle cx="200.9" cy="683.2" r="1.5" fill="#9acd32"/><circle cx="96.5" cy="579.9" r="1.5" fill="#6a7f80"/><circle cx="171.8" cy="700.6" r="1.5" fill="#fe9666"/><circle cx="179.4" cy="519.1" r="1.5" fill="#333b3b"/><circle cx="95.4" cy="569.5" r="1.5" fill="#4ac5bb"/><circle cx="130.7" cy="646.6" r="1.5" fill="#6a7f80"/><circle cx="229.9" cy="542.2" r="1.5" fill="#fb8281"/><circle cx="249.6" cy="639.0" r="1.5" fill="#fe9666"/><circle cx="140.3" cy="574.2" r="1.5" fill="#3d2b4f"/><circle cx="260.5" cy="602.6" r="1.5" fill="#e044a7"/><circle cx="170.4" cy="708.8" r="1.5" fill="#5f6b6d"/><circle cx="167.8" cy="695.0" r="1.5" fill="#8b6914"/><circle cx="150.6" cy="525.5" r="1.5" fill="#5f6b6d"/><circle cx="85.4" cy="629.5" r="1.5" fill="#16665a"/><circle cx="110.2" cy="548.8" r="1.5" fill="#8b6914"/><circle cx="147.9" cy="653.3" r="1.5" fill="#5f6b6d"/><circle cx="199.4" cy="707.4" r="1.5" fill="#6b007b"/><circle cx="250.6" cy="583.7" r="1.5" fill="#3d2b4f"/><circle cx="102.5" cy="614.6" r="1.5" fill="#1f77b4"/><circle cx="203.1" cy="530.6" r="1.5" fill="#7a5c6e"/><circle cx="167.4" cy="686.1" r="1.5" fill="#556b2f"/><circle cx="87.0" cy="636.4" r="1.5" fill="#12239e"/><circle cx="212.3" cy="703.2" r="1.5" fill="#e044a7"/><circle cx="267.3" cy="605.8" r="1.5" fill="#8b2e2e"/><circle cx="259.8" cy="635.9" r="1.5" fill="#9acd32"/><circle cx="226.1" cy="638.1" r="1.5" fill="#116bb8"/><circle cx="250.7" cy="678.1" r="1.5" fill="#222"/><circle cx="102.7" cy="609.4" r="1.5" fill="#556b2f"/><circle cx="137.0" cy="669.7" r="1.5" fill="#2e3b3b"/><circle cx="121.1" cy="647.4" r="1.5" fill="#9acd32"/><circle cx="250.7" cy="551.4" r="1.5" fill="#73b761"/><circle cx="159.0" cy="695.1" r="1.5" fill="#6b6b2a"/><circle cx="232.9" cy="548.1" r="1.5" fill="#6b6b2a"/><circle cx="225.7" cy="680.8" r="1.5" fill="#d64550"/><circle cx="141.5" cy="527.1" r="1.5" fill="#1a3a5a"/><circle cx="98.8" cy="665.1" r="1.5" fill="#d9b300"/><circle cx="122.5" cy="639.4" r="1.5" fill="#222"/><circle cx="222.0" cy="585.4" r="1.5" fill="#e8703a"/><circle cx="126.0" cy="552.7" r="1.5" fill="#e044a7"/><circle cx="93.7" cy="572.9" r="1.5" fill="#744ec2"/><circle cx="124.1" cy="672.9" r="1.5" fill="#8b6914"/><circle cx="181.3" cy="527.1" r="1.5" fill="#dfbfbf"/><circle cx="122.6" cy="690.9" r="1.5" fill="#222"/><circle cx="147.3" cy="537.0" r="1.5" fill="#116bb8"/><circle cx="130.2" cy="696.0" r="1.5" fill="#8b6914"/><circle cx="112.7" cy="606.2" r="1.5" fill="#fe9666"/><circle cx="198.9" cy="699.4" r="1.5" fill="#4a3333"/><circle cx="174.6" cy="566.1" r="1.5" fill="#dfbfbf"/><circle cx="170.2" cy="697.4" r="1.5" fill="#1a3a5a"/><circle cx="136.7" cy="649.3" r="1.5" fill="#8b6914"/><circle cx="252.2" cy="650.6" r="1.5" fill="#3d2b4f"/><circle cx="149.5" cy="572.7" r="1.5" fill="#fb8281"/><circle cx="260.1" cy="565.1" r="1.5" fill="#5f6b6d"/><circle cx="140.3" cy="680.7" r="1.5" fill="#b6776a"/><circle cx="178.7" cy="555.8" r="1.5" fill="#b6776a"/><circle cx="244.4" cy="617.3" r="1.5" fill="#2a2a2a"/><circle cx="229.5" cy="680.8" r="1.5" fill="#222"/><circle cx="244.0" cy="636.3" r="1.5" fill="#d64550"/><circle cx="254.9" cy="556.5" r="1.5" fill="#6b6b2a"/><circle cx="96.2" cy="603.2" r="1.5" fill="#f4d25a"/><circle cx="233.3" cy="634.4" r="1.5" fill="#4ac5bb"/><circle cx="141.7" cy="658.5" r="1.5" fill="#9acd32"/><circle cx="138.1" cy="684.1" r="1.5" fill="#7f898a"/><circle cx="112.6" cy="616.7" r="1.1" fill="#1f77b4"/><circle cx="236.8" cy="691.3" r="1.1" fill="#6a7f80"/><circle cx="196.4" cy="536.2" r="1.1" fill="#3a4444"/><circle cx="218.4" cy="578.9" r="1.1" fill="#8b2e2e"/><circle cx="251.5" cy="564.5" r="1.1" fill="#5f6b6d"/><circle cx="115.7" cy="597.1" r="1.1" fill="#3a4444"/><circle cx="86.3" cy="632.6" r="1.1" fill="#5f6b6d"/><circle cx="236.5" cy="671.8" r="1.1" fill="#f4d25a"/><circle cx="243.9" cy="544.3" r="1.1" fill="#5f6b6d"/><circle cx="189.5" cy="527.1" r="1.1" fill="#116bb8"/><circle cx="118.6" cy="590.1" r="1.1" fill="#8ad4eb"/><circle cx="145.5" cy="685.8" r="1.1" fill="#8b6914"/><circle cx="136.0" cy="538.6" r="1.1" fill="#c590b5"/><circle cx="272.9" cy="594.4" r="1.1" fill="#4ac5bb"/><circle cx="90.1" cy="646.1" r="1.1" fill="#4ac5bb"/><circle cx="274.2" cy="621.2" r="1.1" fill="#1a3a5a"/><circle cx="90.8" cy="605.1" r="1.1" fill="#3a4444"/><circle cx="177.8" cy="547.9" r="1.1" fill="#dfbfbf"/><circle cx="106.1" cy="589.4" r="1.1" fill="#1f77b4"/><circle cx="104.9" cy="646.8" r="1.1" fill="#f4d25a"/><circle cx="244.2" cy="684.8" r="1.1" fill="#9acd32"/><circle cx="129.4" cy="553.2" r="1.1" fill="#222"/><circle cx="219.2" cy="701.2" r="1.1" fill="#f4d25a"/><circle cx="114.9" cy="562.0" r="1.1" fill="#7a5c6e"/><circle cx="208.5" cy="689.5" r="1.1" fill="#dfbfbf"/><circle cx="243.7" cy="670.3" r="1.1" fill="#9acd32"/><circle cx="273.9" cy="626.5" r="1.1" fill="#8b2e2e"/><circle cx="226.8" cy="541.7" r="1.1" fill="#16665a"/><circle cx="183.3" cy="551.7" r="1.1" fill="#4ac5bb"/><circle cx="176.2" cy="671.4" r="1.1" fill="#3599b8"/><circle cx="231.4" cy="544.9" r="1.1" fill="#744ec2"/><circle cx="273.5" cy="597.5" r="1.1" fill="#e8703a"/><circle cx="121.5" cy="587.1" r="1.1" fill="#2e3b3b"/><circle cx="172.7" cy="678.9" r="1.1" fill="#b6776a"/><circle cx="217.3" cy="527.2" r="1.1" fill="#a66999"/><circle cx="200.4" cy="521.9" r="1.1" fill="#c590b5"/><circle cx="103.4" cy="639.6" r="1.1" fill="#c5e06a"/><circle cx="133.7" cy="686.7" r="1.1" fill="#b6776a"/><circle cx="85.1" cy="601.1" r="1.1" fill="#6b6b2a"/><circle cx="128.2" cy="693.8" r="1.1" fill="#f4d25a"/><circle cx="139.2" cy="549.5" r="1.1" fill="#333"/><circle cx="139.2" cy="558.4" r="1.1" fill="#1a3a5a"/><circle cx="274.9" cy="623.8" r="1.1" fill="#fe9666"/><circle cx="102.2" cy="649.3" r="1.1" fill="#4ac5bb"/><circle cx="185.0" cy="549.7" r="1.1" fill="#c590b5"/><circle cx="259.5" cy="649.5" r="1.1" fill="#3d2b4f"/><circle cx="139.9" cy="546.9" r="1.1" fill="#2e3b3b"/><circle cx="234.5" cy="591.3" r="1.1" fill="#d64550"/><circle cx="195.5" cy="541.8" r="1.1" fill="#222"/><circle cx="234.0" cy="678.2" r="1.1" fill="#1a3a5a"/><circle cx="244.4" cy="605.8" r="1.1" fill="#fb8281"/><circle cx="239.8" cy="590.2" r="1.1" fill="#7f898a"/><circle cx="214.4" cy="554.4" r="1.1" fill="#dfbfbf"/><circle cx="101.9" cy="581.6" r="1.1" fill="#4a5a2a"/><circle cx="181.3" cy="677.3" r="1.1" fill="#8b6914"/><circle cx="249.7" cy="566.7" r="1.1" fill="#b6776a"/><circle cx="96.0" cy="625.4" r="1.1" fill="#744ec2"/><circle cx="189.0" cy="709.8" r="1.1" fill="#e8703a"/><circle cx="151.6" cy="706.2" r="1.1" fill="#8b6914"/><circle cx="107.9" cy="572.9" r="1.1" fill="#fe9666"/><circle cx="173.9" cy="710.1" r="1.1" fill="#7f898a"/><circle cx="118.4" cy="541.7" r="1.1" fill="#e044a7"/><circle cx="123.2" cy="554.2" r="1.1" fill="#f4d25a"/><circle cx="112.3" cy="546.7" r="1.1" fill="#fe9666"/><circle cx="261.6" cy="593.2" r="1.1" fill="#e044a7"/><circle cx="120.9" cy="676.7" r="1.1" fill="#e8703a"/><circle cx="118.4" cy="649.9" r="1.1" fill="#4ac5bb"/><circle cx="250.2" cy="641.9" r="1.1" fill="#6b007b"/><circle cx="262.3" cy="662.6" r="1.1" fill="#a66999"/><circle cx="212.9" cy="539.3" r="1.1" fill="#c590b5"/><circle cx="266.0" cy="655.5" r="1.1" fill="#4a5a2a"/><circle cx="129.2" cy="580.0" r="1.1" fill="#c590b5"/><circle cx="115.8" cy="662.3" r="1.1" fill="#b6776a"/><circle cx="198.7" cy="546.3" r="1.1" fill="#5f6b6d"/><circle cx="203.8" cy="527.4" r="1.1" fill="#dfbfbf"/><circle cx="118.5" cy="633.3" r="1.1" fill="#e8703a"/><circle cx="155.1" cy="533.8" r="1.1" fill="#fe9666"/><circle cx="133.8" cy="647.4" r="1.1" fill="#5f6b6d"/><circle cx="165.3" cy="534.7" r="1.1" fill="#c5e06a"/><circle cx="260.7" cy="619.9" r="1.1" fill="#d64550"/><circle cx="97.8" cy="619.3" r="1.1" fill="#333"/><circle cx="191.4" cy="547.5" r="1.1" fill="#333b3b"/><circle cx="90.0" cy="618.8" r="1.1" fill="#c5e06a"/><circle cx="239.4" cy="627.8" r="1.1" fill="#3a4444"/><circle cx="113.0" cy="672.5" r="1.1" fill="#8b6914"/><circle cx="246.5" cy="638.3" r="1.1" fill="#5f6b6d"/><circle cx="216.0" cy="703.1" r="1.1" fill="#2e3b3b"/><circle cx="103.6" cy="673.1" r="1.1" fill="#2e3b3b"/><circle cx="220.5" cy="648.3" r="1.1" fill="#2e3b3b"/><circle cx="168.5" cy="519.3" r="1.1" fill="#3a4444"/><circle cx="247.1" cy="551.9" r="1.1" fill="#4a3333"/><circle cx="141.8" cy="565.6" r="1.1" fill="#e044a7"/><circle cx="220.0" cy="567.4" r="1.1" fill="#3a4444"/><circle cx="211.7" cy="534.7" r="1.1" fill="#6a7f80"/><circle cx="217.1" cy="558.4" r="1.1" fill="#16665a"/><circle cx="263.0" cy="645.6" r="0.9" fill="#556b2f"/><circle cx="254.0" cy="606.5" r="0.9" fill="#b6776a"/><circle cx="253.3" cy="616.1" r="0.9" fill="#4a3333"/><circle cx="107.4" cy="633.4" r="0.9" fill="#3a4444"/><circle cx="126.1" cy="536.6" r="0.9" fill="#7a5c6e"/><circle cx="241.7" cy="558.7" r="0.9" fill="#333b3b"/><circle cx="267.4" cy="615.5" r="0.9" fill="#4a5a2a"/><circle cx="180.9" cy="522.6" r="0.9" fill="#a66999"/><circle cx="218.7" cy="689.5" r="0.9" fill="#2e3b3b"/><circle cx="262.3" cy="633.7" r="0.9" fill="#d9b300"/><circle cx="147.8" cy="692.6" r="0.9" fill="#a66999"/><circle cx="144.1" cy="540.2" r="0.9" fill="#6b007b"/><circle cx="137.9" cy="529.4" r="0.9" fill="#16665a"/><circle cx="100.0" cy="662.1" r="0.9" fill="#222"/><circle cx="231.8" cy="679.2" r="0.9" fill="#c5e06a"/><circle cx="250.3" cy="644.3" r="0.9" fill="#3d2b4f"/><circle cx="263.2" cy="603.9" r="0.9" fill="#e044a7"/><circle cx="260.6" cy="590.7" r="0.9" fill="#fb8281"/><circle cx="257.7" cy="604.3" r="0.9" fill="#1a3a5a"/><circle cx="100.6" cy="606.6" r="0.9" fill="#fb8281"/><circle cx="91.2" cy="643.5" r="0.9" fill="#8b6914"/><circle cx="229.2" cy="559.4" r="0.9" fill="#f4d25a"/><circle cx="144.1" cy="529.3" r="0.9" fill="#d64550"/><circle cx="256.0" cy="649.8" r="0.9" fill="#9acd32"/><circle cx="190.2" cy="693.5" r="0.9" fill="#9acd32"/><circle cx="243.9" cy="667.1" r="0.9" fill="#c590b5"/><circle cx="113.4" cy="559.7" r="0.9" fill="#4a5a2a"/><circle cx="270.1" cy="604.8" r="0.9" fill="#e8703a"/><circle cx="131.8" cy="553.6" r="0.9" fill="#556b2f"/><circle cx="117.1" cy="676.6" r="0.9" fill="#333b3b"/><circle cx="93.2" cy="625.3" r="0.9" fill="#4a3333"/><circle cx="152.5" cy="690.1" r="0.9" fill="#d9b300"/><circle cx="249.6" cy="580.1" r="0.9" fill="#2e3b3b"/><circle cx="211.4" cy="687.3" r="0.9" fill="#f4d25a"/><circle cx="232.9" cy="551.0" r="0.9" fill="#8b6914"/><circle cx="153.2" cy="687.9" r="0.9" fill="#c590b5"/><circle cx="247.3" cy="584.8" r="0.9" fill="#222"/><circle cx="97.8" cy="605.5" r="0.9" fill="#222"/><circle cx="222.7" cy="679.3" r="0.9" fill="#9acd32"/><circle cx="172.8" cy="540.6" r="0.9" fill="#333"/><circle cx="203.0" cy="695.6" r="0.9" fill="#3a4444"/><circle cx="116.9" cy="665.9" r="0.9" fill="#2e3b3b"/><circle cx="235.2" cy="685.3" r="0.9" fill="#744ec2"/><circle cx="253.0" cy="554.2" r="0.9" fill="#a66999"/><circle cx="170.8" cy="705.8" r="0.9" fill="#333b3b"/><circle cx="103.6" cy="658.3" r="0.9" fill="#e044a7"/><circle cx="123.8" cy="544.8" r="0.9" fill="#3599b8"/><circle cx="237.2" cy="683.9" r="0.9" fill="#dfbfbf"/><circle cx="250.3" cy="572.4" r="0.7" fill="#b6776a"/><circle cx="235.7" cy="558.4" r="0.7" fill="#333"/><circle cx="123.3" cy="677.9" r="0.7" fill="#6a7f80"/><circle cx="242.6" cy="546.8" r="0.7" fill="#16665a"/><circle cx="249.7" cy="569.8" r="0.7" fill="#d64550"/><circle cx="259.2" cy="574.5" r="0.7" fill="#7a5c6e"/><circle cx="190.4" cy="687.8" r="0.7" fill="#a66999"/><circle cx="210.2" cy="680.2" r="0.7" fill="#8b6914"/><circle cx="104.0" cy="588.5" r="0.7" fill="#116bb8"/><circle cx="125.8" cy="683.6" r="0.7" fill="#73b761"/><circle cx="263.8" cy="656.9" r="0.7" fill="#7a5c6e"/><circle cx="205.4" cy="689.5" r="0.7" fill="#556b2f"/><circle cx="267.1" cy="631.4" r="0.7" fill="#3599b8"/><circle cx="128.1" cy="538.4" r="0.7" fill="#12239e"/><circle cx="201.5" cy="697.1" r="0.7" fill="#e8703a"/><circle cx="252.9" cy="584.8" r="0.7" fill="#7f898a"/><circle cx="164.4" cy="686.1" r="0.7" fill="#3a4444"/><circle cx="96.1" cy="600.5" r="0.7" fill="#8ad4eb"/><circle cx="93.4" cy="593.9" r="0.7" fill="#b6776a"/><circle cx="261.5" cy="646.8" r="0.7" fill="#c5e06a"/><circle cx="181.9" cy="520.3" r="0.7" fill="#c5e06a"/><circle cx="119.8" cy="555.6" r="0.7" fill="#4a5a2a"/><circle cx="110.1" cy="572.8" r="0.7" fill="#dfbfbf"/><circle cx="254.7" cy="637.9" r="0.7" fill="#e8703a"/><circle cx="139.9" cy="677.5" r="0.7" fill="#e8703a"/><circle cx="260.5" cy="582.8" r="0.7" fill="#dfbfbf"/><circle cx="251.6" cy="647.3" r="0.7" fill="#2a2a2a"/><circle cx="199.4" cy="703.7" r="0.7" fill="#d9b300"/><circle cx="102.8" cy="590.2" r="0.7" fill="#2e3b3b"/><circle cx="125.6" cy="549.9" r="0.7" fill="#7a5c6e"/><circle cx="99.6" cy="631.5" r="0.7" fill="#12239e"/><circle cx="270.3" cy="616.5" r="0.7" fill="#8b6914"/><circle cx="196.7" cy="520.8" r="0.7" fill="#9acd32"/><circle cx="145.0" cy="688.2" r="0.7" fill="#222"/><circle cx="180.5" cy="699.9" r="0.7" fill="#16665a"/><circle cx="162.2" cy="695.9" r="0.7" fill="#73b761"/><circle cx="255.0" cy="585.5" r="0.7" fill="#556b2f"/><circle cx="256.8" cy="637.2" r="0.7" fill="#556b2f"/><circle cx="191.0" cy="524.1" r="0.7" fill="#4a5a2a"/><circle cx="110.9" cy="673.0" r="0.7" fill="#6b6b2a"/><circle cx="218.9" cy="543.6" r="0.7" fill="#5f6b6d"/><circle cx="174.2" cy="542.1" r="0.7" fill="#6b6b2a"/><circle cx="159.5" cy="687.7" r="0.7" fill="#5f6b6d"/><circle cx="235.3" cy="673.7" r="0.7" fill="#7f898a"/><circle cx="97.4" cy="637.5" r="0.7" fill="#2e3b3b"/><circle cx="234.8" cy="665.4" r="0.7" fill="#b6776a"/><circle cx="162.5" cy="534.4" r="0.7" fill="#1f77b4"/><circle cx="95.8" cy="592.5" r="0.7" fill="#8ad4eb"/><circle cx="137.7" cy="540.3" r="0.7" fill="#fb8281"/><circle cx="92.0" cy="586.4" r="0.7" fill="#222"/><circle cx="198.2" cy="534.1" r="0.7" fill="#6b6b2a"/><circle cx="99.5" cy="580.7" r="0.7" fill="#8ad4eb"/><circle cx="207.3" cy="696.6" r="0.7" fill="#9acd32"/><circle cx="133.7" cy="537.5" r="0.7" fill="#6a7f80"/><circle cx="188.1" cy="699.9" r="0.7" fill="#1a3a5a"/><circle cx="251.4" cy="574.5" r="0.7" fill="#16665a"/><circle cx="100.2" cy="667.3" r="0.7" fill="#16665a"/><circle cx="186.6" cy="696.9" r="0.7" fill="#6a7f80"/><circle cx="88.9" cy="585.3" r="0.7" fill="#4a5a2a"/><circle cx="88.0" cy="608.7" r="0.7" fill="#8b2e2e"/><circle cx="209.7" cy="704.6" r="0.7" fill="#4a3333"/><circle cx="175.4" cy="532.6" r="0.7" fill="#222"/><path d="M240.7 542.4h1.15M243.1 542.4h1.15M245.5 542.4h1.15M235.1 672.4h1.15M237.5 672.4h1.15M242.9 560.8h1.15M245.3 560.8h1.15M247.7 560.8h1.15M87.0 593.9h1.15M89.4 593.9h1.15M91.8 593.9h1.15M230.3 546.4h1.15M232.7 546.4h1.15M235.1 546.4h1.15M216.9 519.5h1.15M219.3 519.5h1.15M221.7 519.5h1.15M124.6 679.5h1.15M127.0 679.5h1.15M129.4 679.5h1.15M247.9 540.3h1.15M250.3 540.3h1.15M247.0 680.3h1.15M249.4 680.3h1.15M251.8 680.3h1.15M283.3 608.9h1.15M285.7 608.9h1.15M122.5 554.1h1.15M124.9 554.1h1.15M244.1 540.0h1.15M246.5 540.0h1.15M248.9 540.0h1.15M87.7 612.7h1.15M90.1 612.7h1.15M92.5 612.7h1.15M94.4 672.0h1.15M96.8 672.0h1.15M109.5 674.3h1.15M111.9 674.3h1.15M114.3 674.3h1.15M188.7 710.1h1.15M191.1 710.1h1.15M91.4 560.0h1.15M93.8 560.0h1.15M96.2 560.0h1.15M261.1 678.8h1.15M263.5 678.8h1.15M131.7 528.4h1.15M134.1 528.4h1.15M136.5 528.4h1.15M106.3 682.2h1.15M108.7 682.2h1.15M111.1 682.2h1.15M90.2 594.3h1.15M92.6 594.3h1.15M95.0 594.3h1.15M139.1 537.3h1.15M141.5 537.3h1.15M143.9 537.3h1.15M248.9 666.8h1.15M251.3 666.8h1.15M253.7 666.8h1.15M98.2 561.2h1.15M100.6 561.2h1.15M102.4 558.9h1.15M104.8 558.9h1.15M107.2 558.9h1.15M203.3 704.7h1.15M205.7 704.7h1.15M208.1 704.7h1.15M248.1 545.2h1.15M250.5 545.2h1.15M252.9 545.2h1.15M162.9 512.5h1.15M165.3 512.5h1.15M167.7 512.5h1.15M197.6 712.3h1.15M200.0 712.3h1.15M202.4 712.3h1.15M241.4 691.7h1.15M243.8 691.7h1.15M246.2 691.7h1.15M264.8 561.6h1.15M267.2 561.6h1.15M193.4 536.1h1.15M195.8 536.1h1.15M198.2 536.1h1.15M137.1 703.3h1.15M139.5 703.3h1.15M141.9 703.3h1.15M104.8 575.0h1.15M107.2 575.0h1.15M109.6 575.0h1.15M236.1 690.6h1.15M238.5 690.6h1.15M240.9 690.6h1.15M89.7 572.2h1.15M92.1 572.2h1.15M113.0 672.2h1.15M115.4 672.2h1.15M117.8 672.2h1.15M146.7 712.3h1.15M149.1 712.3h1.15M151.5 712.3h1.15M231.9 538.6h1.15M234.3 538.6h1.15M236.7 538.6h1.15M126.6 558.9h1.15M129.0 558.9h1.15M131.4 558.9h1.15M203.6 704.9h1.15M206.0 704.9h1.15M284.2 611.0h1.15M286.6 611.0h1.15M215.0 522.2h1.15M217.4 522.2h1.15M78.6 626.3h1.15M81.0 626.3h1.15M83.4 626.3h1.15M92.6 590.3h1.15M95.0 590.3h1.15M97.4 590.3h1.15M207.7 524.3h1.15M210.1 524.3h1.15M212.5 524.3h1.15M250.6 546.5h1.15M253.0 546.5h1.15M255.4 546.5h1.15M172.0 532.2h1.15M174.4 532.2h1.15M176.8 532.2h1.15M117.3 698.9h1.15M119.7 698.9h1.15M122.1 698.9h1.15M238.1 542.5h1.15M240.5 542.5h1.15M242.9 542.5h1.15M234.9 671.6h1.15M237.3 671.6h1.15M127.7 702.6h1.15M130.1 702.6h1.15M132.5 702.6h1.15M170.9 705.1h1.15M173.3 705.1h1.15M175.7 705.1h1.15M81.4 616.4h1.15M83.8 616.4h1.15M86.2 616.4h1.15M139.2 684.2h1.15M141.6 684.2h1.15M260.1 663.0h1.15M262.5 663.0h1.15M264.9 663.0h1.15M153.4 514.9h1.15M155.8 514.9h1.15M111.9 555.3h1.15M114.3 555.3h1.15M116.7 555.3h1.15M164.2 687.3h1.15M166.6 687.3h1.15M264.8 664.6h1.15M267.2 664.6h1.15M269.6 664.6h1.15M137.7 688.8h1.15M140.1 688.8h1.15M86.2 624.1h1.15M88.6 624.1h1.15M91.0 624.1h1.15M126.3 695.5h1.15M128.7 695.5h1.15M131.1 695.5h1.15M229.3 532.7h1.15M231.7 532.7h1.15M234.1 532.7h1.15M171.2 711.2h1.15M173.6 711.2h1.15M176.0 711.2h1.15M123.4 690.7h1.15M125.8 690.7h1.15M128.2 690.7h1.15M138.3 533.4h1.15M140.7 533.4h1.15M92.2 560.5h1.15M94.6 560.5h1.15M97.0 560.5h1.15M125.6 670.2h1.15M128.0 670.2h1.15M130.4 670.2h1.15M97.3 608.3h1.15M99.7 608.3h1.15M102.1 608.3h1.15M93.1 557.5h1.15M95.5 557.5h1.15M147.1 516.6h1.15M149.5 516.6h1.15M151.9 516.6h1.15M243.2 553.9h1.15M245.6 553.9h1.15M248.0 553.9h1.15M172.9 690.8h1.15M175.3 690.8h1.15M103.5 625.8h1.15M105.9 625.8h1.15M80.0 645.5h1.15M82.4 645.5h1.15M84.8 645.5h1.15M82.3 602.4h1.15M84.7 602.4h1.15M87.1 602.4h1.15M146.0 523.0h1.15M148.4 523.0h1.15M150.8 523.0h1.15M101.1 622.5h1.15M103.5 622.5h1.15M263.2 644.9h1.15M265.6 644.9h1.15M200.9 699.5h1.15M203.3 699.5h1.15M205.7 699.5h1.15M85.5 604.3h1.15M87.9 604.3h1.15M90.3 604.3h1.15M235.0 531.0h1.15M237.4 531.0h1.15M96.8 629.1h1.15M99.2 629.1h1.15M101.6 629.1h1.15M87.5 567.6h1.15M89.9 567.6h1.15M92.3 567.6h1.15M102.5 647.9h1.15M104.9 647.9h1.15M107.3 647.9h1.15M211.9 711.3h1.15M214.3 711.3h1.15M216.7 711.3h1.15M197.5 711.2h1.15M199.9 711.2h1.15M202.3 711.2h1.15M158.2 692.2h1.15M160.6 692.2h1.15M163.0 692.2h1.15M260.6 575.9h1.15M263.0 575.9h1.15M265.4 575.9h1.15M266.1 638.5h1.15M268.5 638.5h1.15M270.9 638.5h1.15M134.8 527.0h1.15M137.2 527.0h1.15M139.6 527.0h1.15M117.5 697.6h1.15M119.9 697.6h1.15M239.4 674.1h1.15M241.8 674.1h1.15M244.2 674.1h1.15M106.2 631.0h1.15M108.6 631.0h1.15M76.8 628.6h1.15M79.2 628.6h1.15M81.6 628.6h1.15M270.8 642.7h1.15M273.2 642.7h1.15M275.6 642.7h1.15M123.9 700.8h1.15M126.3 700.8h1.15M128.7 700.8h1.15M127.9 561.7h1.15M130.3 561.7h1.15M251.2 675.9h1.15M253.6 675.9h1.15M79.4 640.5h1.15M81.8 640.5h1.15M254.6 666.3h1.15M257.0 666.3h1.15M259.4 666.3h1.15M102.5 594.0h1.15M104.9 594.0h1.15M107.3 594.0h1.15M235.4 684.6h1.15M237.8 684.6h1.15M240.2 684.6h1.15M227.8 695.9h1.15M230.2 695.9h1.15M232.6 695.9h1.15M75.6 603.8h1.15M78.0 603.8h1.15M80.4 603.8h1.15M221.6 545.8h1.15M224.0 545.8h1.15M149.4 713.9h1.15M151.8 713.9h1.15M154.2 713.9h1.15M103.3 639.8h1.15M105.7 639.8h1.15M145.6 532.2h1.15M148.0 532.2h1.15M150.4 532.2h1.15M113.0 581.3h1.15M115.4 581.3h1.15M85.4 608.1h1.15M87.8 608.1h1.15M90.2 608.1h1.15M248.1 559.1h1.15M250.5 559.1h1.15M252.9 559.1h1.15M86.5 573.0h1.15M88.9 573.0h1.15M91.3 573.0h1.15M250.5 678.6h1.15M252.9 678.6h1.15M255.3 678.6h1.15M267.0 646.6h1.15M269.4 646.6h1.15M113.7 684.6h1.15M116.1 684.6h1.15M118.5 684.6h1.15M91.9 629.6h1.15M94.3 629.6h1.15M181.2 513.0h1.15M183.6 513.0h1.15M186.0 513.0h1.15M160.2 521.8h1.15M162.6 521.8h1.15M165.0 521.8h1.15M129.5 699.8h1.15M131.9 699.8h1.15M154.8 714.6h1.15M157.2 714.6h1.15M159.6 714.6h1.15M268.1 601.2h1.15M270.5 601.2h1.15M272.9 601.2h1.15M151.8 709.6h1.15M154.2 709.6h1.15M251.2 691.2h1.15M253.6 691.2h1.15M256.0 691.2h1.15M281.0 641.4h1.15M283.4 641.4h1.15M285.8 641.4h1.15M279.2 622.5h1.15M281.6 622.5h1.15M284.0 622.5h1.15M201.7 707.7h1.15M204.1 707.7h1.15M139.8 700.8h1.15M142.2 700.8h1.15M144.6 700.8h1.15M214.3 680.6h1.15M216.7 680.6h1.15M219.1 680.6h1.15M76.6 600.2h1.15M79.0 600.2h1.15M81.4 600.2h1.15M78.0 602.3h1.15M80.4 602.3h1.15M237.0 532.1h1.15M239.4 532.1h1.15M241.8 532.1h1.15M127.0 555.7h1.15M129.4 555.7h1.15M131.8 555.7h1.15M117.0 688.0h1.15M119.4 688.0h1.15M121.8 688.0h1.15M234.3 690.5h1.15M236.7 690.5h1.15M239.1 690.5h1.15M232.8 528.6h1.15M235.2 528.6h1.15M117.4 553.2h1.15M119.8 553.2h1.15M182.0 536.3h1.15M184.4 536.3h1.15M98.7 631.2h1.15M101.1 631.2h1.15M103.5 631.2h1.15M91.9 570.6h1.15M94.3 570.6h1.15M156.0 711.7h1.15M158.4 711.7h1.15M102.7 659.3h1.15M105.1 659.3h1.15M273.1 608.3h1.15M275.5 608.3h1.15M219.8 678.2h1.15M222.2 678.2h1.15M209.5 547.1h1.15M211.9 547.1h1.15M214.3 547.1h1.15M150.2 532.8h1.15M152.6 532.8h1.15M252.4 548.1h1.15M254.8 548.1h1.15M228.3 550.8h1.15M230.7 550.8h1.15M233.1 550.8h1.15M84.3 611.1h1.15M86.7 611.1h1.15M89.1 611.1h1.15M274.5 637.8h1.15M276.9 637.8h1.15M279.3 637.8h1.15M256.9 638.8h1.15M259.3 638.8h1.15M261.7 638.8h1.15M280.2 638.4h1.15M282.6 638.4h1.15M285.0 638.4h1.15M264.1 584.4h1.15M266.5 584.4h1.15M105.4 551.3h1.15M107.8 551.3h1.15M110.2 551.3h1.15M218.4 697.2h1.15M220.8 697.2h1.15M223.2 697.2h1.15M92.2 672.4h1.15M94.6 672.4h1.15M220.9 523.0h1.15M223.3 523.0h1.15M228.6 527.6h1.15M231.0 527.6h1.15M233.4 527.6h1.15M204.6 523.7h1.15M207.0 523.7h1.15M209.4 523.7h1.15M206.8 542.7h1.15M209.2 542.7h1.15M151.9 530.2h1.15M154.3 530.2h1.15M156.7 530.2h1.15M236.8 529.0h1.15M239.2 529.0h1.15M80.3 606.2h1.15M82.7 606.2h1.15M83.2 637.5h1.15M85.6 637.5h1.15M129.4 681.2h1.15M131.8 681.2h1.15M134.2 681.2h1.15M153.9 714.4h1.15M156.3 714.4h1.15M158.7 714.4h1.15M131.1 537.0h1.15M133.5 537.0h1.15M260.7 673.7h1.15M263.1 673.7h1.15M265.5 673.7h1.15M216.4 527.1h1.15M218.8 527.1h1.15M77.2 608.4h1.15M79.6 608.4h1.15M82.0 608.4h1.15M267.9 647.3h1.15M270.3 647.3h1.15M239.8 694.2h1.15M242.2 694.2h1.15M244.6 694.2h1.15M126.0 541.2h1.15M128.4 541.2h1.15M130.8 541.2h1.15M152.6 528.2h1.15M155.0 528.2h1.15M157.4 528.2h1.15M144.8 521.6h1.15M147.2 521.6h1.15M149.6 521.6h1.15M253.9 558.3h1.15M256.3 558.3h1.15M258.7 558.3h1.15M191.3 691.7h1.15M193.7 691.7h1.15M95.8 657.1h1.15M98.2 657.1h1.15M273.1 618.3h1.15M275.5 618.3h1.15M277.9 618.3h1.15M202.0 523.2h1.15M204.4 523.2h1.15M206.8 523.2h1.15M193.7 698.6h1.15M196.1 698.6h1.15M116.1 668.7h1.15M118.5 668.7h1.15M120.9 668.7h1.15M223.1 707.2h1.15M225.5 707.2h1.15M227.9 707.2h1.15M266.7 582.4h1.15M269.1 582.4h1.15M271.5 582.4h1.15M280.0 642.7h1.15M282.4 642.7h1.15M284.8 642.7h1.15M166.4 514.5h1.15M168.8 514.5h1.15M269.7 588.5h1.15M272.1 588.5h1.15M274.5 588.5h1.15M262.3 578.9h1.15M264.7 578.9h1.15M267.1 578.9h1.15M128.2 547.1h1.15M130.6 547.1h1.15M133.0 547.1h1.15M256.1 606.3h1.15M258.5 606.3h1.15M230.2 692.8h1.15M232.6 692.8h1.15M199.3 541.7h1.15M201.7 541.7h1.15M204.1 541.7h1.15M194.8 516.7h1.15M197.2 516.7h1.15M199.6 516.7h1.15M250.9 689.9h1.15M253.3 689.9h1.15M155.1 711.2h1.15M157.5 711.2h1.15M159.9 711.2h1.15M133.5 527.2h1.15M135.9 527.2h1.15M138.3 527.2h1.15M282.7 606.5h1.15M285.1 606.5h1.15M287.5 606.5h1.15M271.5 615.6h1.15M271.4 618.3h1.15M271.3 621.0h1.15M271.0 623.7h1.15M270.3 629.0h1.15M269.9 631.7h1.15M269.3 634.3h1.15M268.7 637.0h1.15M268.0 639.6h1.15M265.5 647.3h1.15M263.4 652.3h1.15M262.2 654.7h1.15M261.0 657.1h1.15M258.4 661.8h1.15M257.0 664.1h1.15M255.5 666.4h1.15M253.9 668.6h1.15M252.3 670.7h1.15M250.6 672.9h1.15M248.9 674.9h1.15M245.2 678.9h1.15M243.3 680.8h1.15M241.3 682.6h1.15M239.3 684.4h1.15M237.2 686.1h1.15M235.1 687.8h1.15M232.9 689.4h1.15M230.7 690.9h1.15M228.4 692.4h1.15M226.1 693.8h1.15M223.8 695.2h1.15M221.4 696.4h1.15M219.0 697.6h1.15M216.5 698.7h1.15M211.5 700.8h1.15M206.4 702.5h1.15M203.8 703.2h1.15M201.2 703.9h1.15M198.5 704.5h1.15M195.9 705.0h1.15M193.2 705.5h1.15M190.5 705.8h1.15M187.8 706.1h1.15M185.2 706.3h1.15M182.5 706.5h1.15M179.8 706.5h1.15M177.1 706.5h1.15M174.4 706.4h1.15M171.7 706.2h1.15M166.3 705.5h1.15M163.6 705.1h1.15M161.0 704.6h1.15M158.3 704.0h1.15M155.7 703.4h1.15M153.1 702.6h1.15M150.5 701.8h1.15M148.0 700.9h1.15M145.5 700.0h1.15M140.5 697.8h1.15M138.1 696.6h1.15M135.7 695.4h1.15M133.3 694.1h1.15M131.0 692.7h1.15M128.7 691.2h1.15M126.5 689.7h1.15M124.3 688.1h1.15M120.1 684.8h1.15M118.1 683.0h1.15M116.1 681.1h1.15M112.3 677.3h1.15M108.7 673.3h1.15M107.0 671.2h1.15M105.4 669.0h1.15M103.8 666.8h1.15M102.3 664.6h1.15M100.9 662.3h1.15M99.5 659.9h1.15M98.2 657.6h1.15M97.0 655.2h1.15M95.8 652.7h1.15M94.7 650.3h1.15M93.7 647.8h1.15M92.8 645.2h1.15M91.9 642.7h1.15M91.1 640.1h1.15M89.8 634.8h1.15M89.2 632.2h1.15M88.7 629.5h1.15M88.3 626.9h1.15M88.0 624.2h1.15M87.8 621.5h1.15M87.6 618.8h1.15M87.5 613.4h1.15M87.6 610.7h1.15M87.7 608.0h1.15M88.0 605.3h1.15M89.1 597.3h1.15M89.7 594.7h1.15M90.3 592.0h1.15M91.0 589.4h1.15M92.6 584.3h1.15M93.5 581.7h1.15M94.5 579.2h1.15M95.6 576.7h1.15M96.8 574.3h1.15M98.0 571.9h1.15M99.3 569.5h1.15M100.6 567.2h1.15M102.0 564.9h1.15M103.5 562.6h1.15M105.1 560.4h1.15M106.7 558.3h1.15M108.4 556.1h1.15M110.1 554.1h1.15M111.9 552.1h1.15M113.8 550.1h1.15M115.7 548.2h1.15M117.7 546.4h1.15M119.7 544.6h1.15M123.9 541.2h1.15M130.6 536.6h1.15M132.9 535.2h1.15M137.6 532.6h1.15M140.0 531.4h1.15M142.5 530.3h1.15M145.0 529.2h1.15M147.5 528.2h1.15M150.1 527.3h1.15M152.6 526.5h1.15M155.2 525.8h1.15M157.8 525.1h1.15M163.1 524.0h1.15M165.8 523.5h1.15M171.2 522.9h1.15M173.8 522.7h1.15M179.2 522.5h1.15M181.9 522.5h1.15M184.6 522.6h1.15M187.3 522.8h1.15M190.0 523.1h1.15M192.7 523.5h1.15M195.4 523.9h1.15M198.0 524.4h1.15M200.7 525.0h1.15M203.3 525.6h1.15M211.0 528.1h1.15M213.5 529.0h1.15M216.0 530.1h1.15M218.5 531.2h1.15M220.9 532.4h1.15M223.3 533.6h1.15M225.7 534.9h1.15M228.0 536.3h1.15M230.3 537.8h1.15M232.5 539.3h1.15M236.8 542.5h1.15M238.9 544.2h1.15M242.9 547.9h1.15M250.3 555.7h1.15M253.6 560.0h1.15M256.7 564.4h1.15M258.1 566.7h1.15M259.5 569.1h1.15M260.8 571.4h1.15M262.0 573.8h1.15M263.2 576.3h1.15M264.3 578.7h1.15M266.2 583.8h1.15M267.1 586.3h1.15M267.9 588.9h1.15M268.6 591.5h1.15M269.2 594.2h1.15M269.8 596.8h1.15M270.3 599.5h1.15M270.7 602.1h1.15M271.2 607.5h1.15M271.4 610.2h1.15M271.5 612.9h1.15M274.0 616.2h1.15M273.9 618.9h1.15M273.7 621.6h1.15M273.5 624.3h1.15M272.8 629.7h1.15M272.3 632.4h1.15M271.7 635.0h1.15M271.1 637.6h1.15M270.4 640.3h1.15M269.6 642.9h1.15M268.8 645.4h1.15M266.9 650.5h1.15M265.8 653.0h1.15M264.7 655.5h1.15M263.5 657.9h1.15M262.2 660.3h1.15M260.8 662.6h1.15M259.4 664.9h1.15M257.9 667.2h1.15M256.4 669.4h1.15M253.1 673.8h1.15M251.4 675.8h1.15M249.6 677.9h1.15M247.7 679.9h1.15M245.8 681.8h1.15M243.9 683.7h1.15M241.9 685.5h1.15M239.8 687.3h1.15M235.5 690.6h1.15M231.1 693.7h1.15M224.1 697.8h1.15M221.7 699.1h1.15M219.2 700.2h1.15M216.8 701.3h1.15M214.3 702.4h1.15M211.7 703.3h1.15M209.2 704.2h1.15M206.6 705.0h1.15M204.0 705.8h1.15M198.7 707.0h1.15M196.0 707.5h1.15M193.3 708.0h1.15M190.7 708.3h1.15M188.0 708.6h1.15M185.3 708.8h1.15M177.1 709.0h1.15M174.4 708.9h1.15M171.7 708.7h1.15M169.0 708.4h1.15M166.3 708.1h1.15M161.0 707.2h1.15M155.7 706.0h1.15M153.1 705.2h1.15M150.5 704.4h1.15M145.4 702.6h1.15M142.9 701.6h1.15M140.4 700.5h1.15M137.9 699.4h1.15M135.5 698.1h1.15M130.8 695.5h1.15M126.2 692.6h1.15M124.0 691.0h1.15M121.8 689.4h1.15M119.7 687.7h1.15M115.6 684.1h1.15M113.6 682.3h1.15M111.7 680.4h1.15M109.9 678.4h1.15M108.1 676.4h1.15M106.3 674.3h1.15M104.6 672.2h1.15M103.0 670.0h1.15M101.4 667.8h1.15M100.0 665.5h1.15M98.5 663.2h1.15M95.9 658.5h1.15M94.6 656.1h1.15M93.5 653.6h1.15M92.4 651.1h1.15M91.4 648.6h1.15M90.4 646.1h1.15M89.6 643.5h1.15M88.8 640.9h1.15M88.0 638.3h1.15M87.4 635.7h1.15M86.8 633.0h1.15M86.3 630.4h1.15M85.9 627.7h1.15M85.3 622.3h1.15M85.1 619.6h1.15M85.0 614.2h1.15M85.0 611.5h1.15M85.2 608.7h1.15M85.7 603.3h1.15M86.0 600.7h1.15M86.5 598.0h1.15M87.0 595.3h1.15M88.2 590.0h1.15M89.0 587.4h1.15M89.8 584.9h1.15M90.7 582.3h1.15M92.7 577.2h1.15M93.8 574.8h1.15M94.9 572.3h1.15M96.2 569.9h1.15M97.5 567.5h1.15M98.9 565.2h1.15M100.3 562.9h1.15M101.8 560.7h1.15M103.4 558.5h1.15M105.0 556.3h1.15M106.7 554.2h1.15M120.2 540.9h1.15M122.4 539.2h1.15M124.6 537.6h1.15M129.1 534.6h1.15M131.4 533.2h1.15M133.7 531.8h1.15M136.1 530.5h1.15M138.5 529.3h1.15M141.0 528.2h1.15M143.5 527.1h1.15M146.0 526.1h1.15M148.6 525.2h1.15M151.1 524.4h1.15M153.7 523.6h1.15M159.0 522.3h1.15M161.6 521.7h1.15M164.3 521.2h1.15M167.0 520.8h1.15M169.7 520.5h1.15M172.4 520.3h1.15M175.1 520.1h1.15M177.8 520.0h1.15M183.2 520.1h1.15M185.9 520.2h1.15M188.6 520.4h1.15M191.3 520.7h1.15M194.0 521.1h1.15M199.3 522.1h1.15M202.0 522.7h1.15M204.6 523.4h1.15M207.2 524.2h1.15M209.8 525.0h1.15M212.3 525.9h1.15M214.9 526.9h1.15M217.4 527.9h1.15M219.8 529.0h1.15M222.3 530.2h1.15M224.7 531.5h1.15M227.0 532.8h1.15M231.6 535.7h1.15M233.9 537.2h1.15M236.1 538.8h1.15M238.2 540.5h1.15M240.3 542.2h1.15M242.4 544.0h1.15M244.4 545.8h1.15M246.3 547.7h1.15M248.2 549.6h1.15M250.0 551.6h1.15M251.8 553.7h1.15M255.2 557.9h1.15M258.3 562.3h1.15M259.8 564.6h1.15M261.2 567.0h1.15M262.5 569.3h1.15M263.8 571.7h1.15M265.0 574.1h1.15M266.1 576.6h1.15M267.1 579.1h1.15M268.1 581.6h1.15M269.0 584.2h1.15M270.6 589.4h1.15M271.3 592.0h1.15M271.9 594.6h1.15M272.4 597.3h1.15M272.9 600.0h1.15M273.3 602.7h1.15M273.6 605.4h1.15M273.8 608.1h1.15M273.9 610.8h1.15M274.0 613.5h1.15M276.5 615.7h1.15M276.1 623.8h1.15M275.8 626.5h1.15M275.4 629.2h1.15M274.9 631.9h1.15M274.4 634.5h1.15M273.8 637.2h1.15M273.1 639.8h1.15M272.4 642.4h1.15M271.6 645.0h1.15M270.7 647.5h1.15M269.7 650.1h1.15M267.6 655.0h1.15M266.5 657.5h1.15M265.2 659.9h1.15M263.9 662.3h1.15M262.6 664.6h1.15M261.1 666.9h1.15M259.6 669.2h1.15M256.4 673.6h1.15M254.8 675.7h1.15M253.0 677.8h1.15M251.2 679.8h1.15M249.4 681.8h1.15M247.5 683.7h1.15M245.5 685.6h1.15M243.5 687.4h1.15M241.5 689.1h1.15M239.3 690.8h1.15M237.2 692.5h1.15M235.0 694.1h1.15M232.7 695.6h1.15M230.5 697.0h1.15M225.8 699.8h1.15M223.4 701.0h1.15M220.9 702.2h1.15M218.5 703.3h1.15M216.0 704.4h1.15M213.5 705.4h1.15M210.9 706.3h1.15M208.3 707.1h1.15M205.7 707.9h1.15M200.5 709.2h1.15M195.2 710.2h1.15M192.5 710.6h1.15M189.8 711.0h1.15M187.1 711.2h1.15M184.4 711.4h1.15M181.7 711.5h1.15M179.0 711.5h1.15M176.3 711.4h1.15M173.6 711.3h1.15M170.9 711.1h1.15M162.8 710.1h1.15M157.5 709.0h1.15M154.9 708.3h1.15M152.3 707.6h1.15M149.7 706.8h1.15M147.1 705.9h1.15M144.6 705.0h1.15M142.1 704.0h1.15M139.6 702.9h1.15M137.1 701.8h1.15M134.7 700.5h1.15M132.3 699.2h1.15M130.0 697.9h1.15M125.4 695.0h1.15M118.8 690.2h1.15M116.8 688.5h1.15M112.7 684.9h1.15M110.8 683.0h1.15M107.1 679.0h1.15M105.3 677.0h1.15M103.6 674.9h1.15M101.9 672.7h1.15M100.3 670.5h1.15M98.8 668.3h1.15M97.3 666.0h1.15M95.9 663.7h1.15M94.6 661.4h1.15M93.3 659.0h1.15M92.1 656.6h1.15M90.9 654.1h1.15M89.9 651.6h1.15M88.9 649.1h1.15M87.9 646.5h1.15M87.1 644.0h1.15M86.3 641.4h1.15M85.6 638.8h1.15M84.9 636.1h1.15M84.4 633.5h1.15M83.9 630.8h1.15M83.5 628.2h1.15M83.1 625.5h1.15M82.5 617.4h1.15M82.5 614.7h1.15M82.5 611.9h1.15M82.6 609.2h1.15M82.8 606.5h1.15M83.4 601.2h1.15M83.8 598.5h1.15M84.3 595.8h1.15M84.9 593.2h1.15M87.0 585.3h1.15M87.8 582.7h1.15M88.8 580.2h1.15M89.8 577.7h1.15M90.8 575.2h1.15M93.2 570.3h1.15M95.8 565.5h1.15M97.2 563.2h1.15M98.6 561.0h1.15M101.7 556.5h1.15M103.4 554.4h1.15M105.1 552.3h1.15M106.9 550.2h1.15M108.7 548.2h1.15M112.5 544.4h1.15M114.5 542.5h1.15M116.5 540.7h1.15M118.6 539.0h1.15M120.7 537.3h1.15M122.9 535.7h1.15M125.1 534.2h1.15M127.4 532.7h1.15M129.7 531.3h1.15M132.0 529.9h1.15M134.4 528.6h1.15M136.8 527.4h1.15M139.3 526.2h1.15M144.3 524.1h1.15M146.8 523.2h1.15M149.4 522.3h1.15M152.0 521.5h1.15M154.6 520.8h1.15M157.2 520.1h1.15M165.2 518.6h1.15M167.9 518.2h1.15M170.6 517.9h1.15M176.0 517.6h1.15M178.7 517.5h1.15M184.1 517.6h1.15M186.8 517.8h1.15M189.5 518.0h1.15M194.9 518.7h1.15M197.5 519.2h1.15M200.2 519.7h1.15M202.8 520.3h1.15M208.0 521.8h1.15M210.6 522.6h1.15M213.2 523.5h1.15M215.7 524.5h1.15M218.2 525.6h1.15M220.7 526.7h1.15M223.1 527.8h1.15M225.5 529.1h1.15M227.9 530.4h1.15M230.2 531.8h1.15M232.5 533.2h1.15M234.7 534.8h1.15M236.9 536.3h1.15M239.1 538.0h1.15M241.2 539.7h1.15M243.3 541.4h1.15M245.3 543.2h1.15M247.3 545.1h1.15M249.2 547.0h1.15M251.0 549.0h1.15M252.8 551.0h1.15M254.6 553.1h1.15M256.3 555.2h1.15M257.9 557.4h1.15M259.4 559.6h1.15M262.4 564.1h1.15M263.8 566.5h1.15M265.1 568.8h1.15M267.5 573.7h1.15M268.6 576.1h1.15M271.5 583.7h1.15M272.3 586.3h1.15M273.7 591.5h1.15M274.3 594.2h1.15M274.9 596.8h1.15M275.3 599.5h1.15M276.3 607.6h1.15M276.5 613.0h1.15M279.0 616.3h1.15M278.9 619.0h1.15M278.7 621.7h1.15M278.5 624.4h1.15M278.2 627.1h1.15M277.8 629.7h1.15M277.4 632.4h1.15M276.9 635.1h1.15M276.3 637.7h1.15M275.6 640.3h1.15M274.9 642.9h1.15M274.0 645.5h1.15M273.2 648.1h1.15M272.2 650.6h1.15M271.2 653.1h1.15M270.1 655.6h1.15M266.5 662.8h1.15M265.1 665.2h1.15M263.7 667.5h1.15M262.2 669.8h1.15M260.7 672.0h1.15M259.1 674.2h1.15M257.5 676.3h1.15M255.7 678.4h1.15M254.0 680.5h1.15M252.2 682.5h1.15M250.3 684.4h1.15M248.4 686.3h1.15M246.4 688.2h1.15M244.3 690.0h1.15M242.3 691.7h1.15M240.1 693.4h1.15M238.0 695.0h1.15M235.8 696.6h1.15M231.2 699.5h1.15M228.9 700.9h1.15M226.5 702.2h1.15M221.7 704.6h1.15M219.2 705.7h1.15M216.7 706.8h1.15M211.7 708.7h1.15M209.1 709.5h1.15M206.5 710.3h1.15M203.9 711.0h1.15M201.2 711.6h1.15M198.6 712.2h1.15M195.9 712.6h1.15M193.3 713.0h1.15M190.6 713.4h1.15M187.9 713.6h1.15M185.2 713.8h1.15M182.5 714.0h1.15M177.1 714.0h1.15M174.4 713.9h1.15M171.7 713.7h1.15M166.3 713.1h1.15M163.6 712.7h1.15M160.9 712.3h1.15M158.3 711.7h1.15M155.6 711.1h1.15M153.0 710.4h1.15M150.4 709.7h1.15M145.3 707.9h1.15M142.8 707.0h1.15M140.3 705.9h1.15M135.4 703.7h1.15M132.9 702.4h1.15M130.6 701.1h1.15M128.2 699.8h1.15M125.9 698.3h1.15M123.7 696.9h1.15M121.5 695.3h1.15M119.3 693.7h1.15M113.0 688.5h1.15M111.0 686.7h1.15M107.2 682.9h1.15M105.4 680.9h1.15M103.6 678.8h1.15M101.9 676.7h1.15M100.2 674.6h1.15M98.6 672.4h1.15M97.1 670.2h1.15M94.2 665.6h1.15M92.8 663.3h1.15M90.3 658.5h1.15M89.1 656.1h1.15M88.0 653.6h1.15M87.0 651.1h1.15M86.0 648.6h1.15M85.1 646.0h1.15M84.3 643.4h1.15M83.5 640.8h1.15M82.3 635.6h1.15M81.3 630.3h1.15M80.9 627.6h1.15M80.5 624.9h1.15M80.3 622.2h1.15M80.1 619.5h1.15M80.0 616.8h1.15M80.2 608.7h1.15M80.6 603.3h1.15M81.4 597.9h1.15M81.9 595.3h1.15M82.4 592.6h1.15M83.1 590.0h1.15M85.4 582.2h1.15M86.3 579.7h1.15M87.3 577.1h1.15M88.3 574.6h1.15M91.9 567.3h1.15M93.2 565.0h1.15M94.6 562.7h1.15M97.5 558.1h1.15M99.1 555.9h1.15M100.7 553.7h1.15M102.4 551.6h1.15M104.1 549.5h1.15M105.9 547.5h1.15M109.7 543.6h1.15M113.6 539.9h1.15M117.8 536.5h1.15M119.9 534.8h1.15M122.1 533.2h1.15M124.4 531.7h1.15M126.6 530.2h1.15M128.9 528.8h1.15M133.7 526.2h1.15M138.5 523.8h1.15M143.5 521.7h1.15M146.1 520.8h1.15M151.2 519.1h1.15M153.8 518.4h1.15M156.4 517.7h1.15M159.1 517.1h1.15M161.7 516.6h1.15M167.1 515.8h1.15M169.8 515.5h1.15M172.5 515.2h1.15M175.2 515.1h1.15M177.9 515.0h1.15M180.6 515.0h1.15M183.3 515.1h1.15M188.7 515.4h1.15M191.4 515.7h1.15M196.7 516.5h1.15M199.4 517.0h1.15M202.0 517.6h1.15M207.3 519.0h1.15M209.9 519.7h1.15M212.4 520.6h1.15M217.5 522.5h1.15M222.4 524.7h1.15M224.9 525.9h1.15M227.2 527.2h1.15M229.6 528.5h1.15M231.9 529.9h1.15M234.2 531.4h1.15M236.4 532.9h1.15M240.8 536.1h1.15M242.9 537.8h1.15M245.0 539.6h1.15M247.0 541.4h1.15M248.9 543.2h1.15M250.9 545.2h1.15M252.7 547.1h1.15M254.5 549.1h1.15M256.3 551.2h1.15M258.0 553.3h1.15M259.6 555.5h1.15M261.2 557.7h1.15M262.7 559.9h1.15M264.1 562.2h1.15M265.5 564.5h1.15M266.9 566.9h1.15M269.3 571.7h1.15M270.5 574.2h1.15M271.5 576.6h1.15M272.5 579.2h1.15M273.4 581.7h1.15M274.3 584.3h1.15M275.1 586.9h1.15M275.8 589.5h1.15M276.4 592.1h1.15M277.5 597.4h1.15M277.9 600.1h1.15M278.3 602.8h1.15M278.6 605.5h1.15M278.9 610.9h1.15M279.0 613.6h1.15M281.5 617.0h1.15M281.4 619.7h1.15M281.0 625.1h1.15M280.3 630.4h1.15M279.8 633.1h1.15M278.7 638.4h1.15M278.0 641.0h1.15M276.5 646.2h1.15M275.6 648.7h1.15M274.6 651.3h1.15M273.6 653.8h1.15M272.6 656.3h1.15M270.2 661.1h1.15M268.9 663.5h1.15M267.6 665.9h1.15M266.2 668.2h1.15M263.3 672.7h1.15M261.7 674.9h1.15M260.1 677.1h1.15M258.4 679.2h1.15M256.6 681.3h1.15M254.8 683.3h1.15M253.0 685.2h1.15M251.1 687.2h1.15M249.1 689.0h1.15M247.1 690.9h1.15M245.1 692.6h1.15M243.0 694.3h1.15M240.8 696.0h1.15M234.2 700.6h1.15M231.9 702.0h1.15M229.5 703.4h1.15M224.8 705.9h1.15M222.3 707.1h1.15M219.8 708.2h1.15M217.3 709.2h1.15M214.8 710.2h1.15M212.3 711.1h1.15M209.7 711.9h1.15M204.5 713.4h1.15M199.2 714.6h1.15M196.6 715.1h1.15M193.9 715.5h1.15M191.2 715.8h1.15M188.5 716.1h1.15M185.8 716.3h1.15M175.0 716.4h1.15M172.3 716.2h1.15M169.6 716.0h1.15M166.9 715.7h1.15M164.3 715.4h1.15M161.6 714.9h1.15M158.9 714.4h1.15M156.3 713.8h1.15M153.7 713.2h1.15M151.1 712.5h1.15M145.9 710.8h1.15M138.4 707.8h1.15M135.9 706.7h1.15M133.5 705.5h1.15M131.1 704.3h1.15M128.7 703.0h1.15M126.4 701.6h1.15M124.1 700.1h1.15M121.8 698.6h1.15M119.6 697.1h1.15M117.5 695.5h1.15M115.3 693.8h1.15M113.3 692.1h1.15M111.2 690.3h1.15M109.2 688.4h1.15M107.3 686.6h1.15M103.6 682.6h1.15M101.8 680.6h1.15M98.4 676.4h1.15M96.8 674.2h1.15M95.3 672.0h1.15M93.8 669.7h1.15M92.3 667.5h1.15M89.6 662.8h1.15M88.4 660.4h1.15M87.2 657.9h1.15M86.1 655.5h1.15M85.0 653.0h1.15M84.0 650.5h1.15M83.1 647.9h1.15M82.3 645.3h1.15M81.5 642.8h1.15M80.8 640.2h1.15M80.1 637.5h1.15M79.6 634.9h1.15M78.6 629.6h1.15M78.3 626.9h1.15M78.0 624.2h1.15M77.7 621.5h1.15M77.6 618.8h1.15M77.5 616.1h1.15M77.5 613.4h1.15M77.6 610.7h1.15M77.7 608.0h1.15M77.9 605.3h1.15M78.2 602.6h1.15M78.5 599.9h1.15M79.0 597.2h1.15M79.5 594.6h1.15M80.7 589.3h1.15M81.4 586.7h1.15M82.1 584.1h1.15M83.0 581.5h1.15M83.9 579.0h1.15M84.9 576.5h1.15M85.9 574.0h1.15M87.0 571.5h1.15M88.2 569.1h1.15M89.4 566.7h1.15M90.7 564.3h1.15M92.1 562.0h1.15M93.5 559.7h1.15M96.5 555.2h1.15M98.1 553.0h1.15M99.8 550.9h1.15M101.5 548.8h1.15M103.3 546.7h1.15M107.0 542.8h1.15M110.9 539.0h1.15M112.9 537.3h1.15M115.0 535.5h1.15M119.2 532.2h1.15M123.7 529.1h1.15M126.0 527.7h1.15M130.6 525.0h1.15M133.0 523.7h1.15M137.9 521.4h1.15M140.4 520.3h1.15M142.9 519.3h1.15M145.4 518.4h1.15M148.0 517.5h1.15M150.6 516.7h1.15M153.2 516.0h1.15M161.1 514.2h1.15M163.8 513.7h1.15M166.4 513.3h1.15M171.8 512.8h1.15M174.5 512.6h1.15M179.9 512.5h1.15M182.6 512.5h1.15M185.3 512.7h1.15M188.0 512.9h1.15M196.1 513.9h1.15M198.7 514.3h1.15M201.4 514.9h1.15M204.0 515.5h1.15M206.6 516.2h1.15M209.2 516.9h1.15M211.8 517.8h1.15M214.4 518.6h1.15M216.9 519.6h1.15M219.4 520.6h1.15M221.9 521.7h1.15M224.3 522.9h1.15M226.7 524.1h1.15M229.1 525.4h1.15M231.5 526.7h1.15M233.8 528.1h1.15M236.0 529.6h1.15M238.3 531.1h1.15M240.5 532.7h1.15M242.6 534.4h1.15M244.7 536.1h1.15M246.8 537.8h1.15M248.8 539.6h1.15M250.7 541.5h1.15M252.6 543.4h1.15M254.5 545.4h1.15M256.3 547.4h1.15M258.1 549.4h1.15M259.8 551.5h1.15M261.4 553.7h1.15M263.0 555.9h1.15M264.5 558.1h1.15M266.0 560.4h1.15M267.4 562.7h1.15M268.7 565.1h1.15M272.4 572.3h1.15M273.4 574.8h1.15M274.5 577.3h1.15M275.4 579.8h1.15M276.3 582.4h1.15M277.1 584.9h1.15M277.9 587.5h1.15M278.6 590.2h1.15M279.2 592.8h1.15M279.7 595.4h1.15M280.6 600.8h1.15M280.9 603.5h1.15M281.2 606.2h1.15M281.3 608.9h1.15M281.5 611.6h1.15M281.5 614.3h1.15M201.4 542.9h1.15M204.0 542.9h1.15M206.6 542.9h1.15M194.4 693.3h1.15M197.0 693.3h1.15M199.6 693.3h1.15M128.7 681.0h1.15M131.3 681.0h1.15M133.9 681.0h1.15M213.5 685.2h1.15M216.1 685.2h1.15M218.7 685.2h1.15M257.2 614.6h1.15M259.8 614.6h1.15M262.4 614.6h1.15M128.7 548.3h1.15M131.3 548.3h1.15M133.9 548.3h1.15M138.0 536.9h1.15M140.6 536.9h1.15M143.2 536.9h1.15M236.0 555.2h1.15M238.6 555.2h1.15M241.2 555.2h1.15M252.7 581.5h1.15M255.3 581.5h1.15M257.9 581.5h1.15M253.5 645.7h1.15M256.1 645.7h1.15M258.7 645.7h1.15M91.5 615.0h1.15M94.1 615.0h1.15M96.7 615.0h1.15M94.9 589.1h1.15M97.5 589.1h1.15M100.1 589.1h1.15M105.6 568.2h1.15M108.2 568.2h1.15M110.8 568.2h1.15" stroke="#fff" stroke-width="1.2" stroke-opacity=".95" fill="none"/><path d="M124.7 571.6h1.5M127.9 571.6h1.5M131.1 571.6h1.5M124.7 664.3h1.5M127.9 664.3h1.5M131.1 664.3h1.5M181.1 542.6h1.5M184.3 542.6h1.5M187.5 542.6h1.5M246.8 599.8h1.5M250.0 599.8h1.5M253.2 599.8h1.5M247.9 631.4h1.5M251.1 631.4h1.5M254.3 631.4h1.5M220.0 554.9h1.5M223.2 554.9h1.5M226.4 554.9h1.5M109.2 585.6h1.5M112.4 585.6h1.5M115.6 585.6h1.5M102.2 602.3h1.5M105.4 602.3h1.5M108.6 602.3h1.5M102.2 627.6h1.5M105.4 627.6h1.5M108.6 627.6h1.5M109.2 644.5h1.5M112.4 644.5h1.5M115.6 644.5h1.5M175.4 693.2h1.5M178.6 693.2h1.5M181.8 693.2h1.5M223.4 674.6h1.5M226.6 674.6h1.5M229.8 674.6h1.5" stroke="#fff" stroke-width="1.6" stroke-opacity=".92" fill="none"/><defs><filter id="sb" x="-10%" y="-10%" width="120%" height="120%"><feGaussianBlur stdDeviation="0.9"/></filter></defs><rect x="125" y="596" width="52" height="31" fill="#2f7fc6" fill-opacity=".75" filter="url(#sb)"/><rect x="202" y="596" width="30" height="33" fill="#2b3bab" fill-opacity=".75" filter="url(#sb)"/><rect x="182" y="646" width="30" height="25" fill="#ec8450" fill-opacity=".75" filter="url(#sb)"/></svg><div class="t" style="left:120.6px;top:69.2px;font-size:13px;color:#fff">EN...</div><div class="t" style="left:159px;top:85px;font-size:13px;color:#fff">NE...</div><div class="t" style="left:200.8px;top:89.6px;font-size:13px;color:#fff">W...</div><div class="t" style="left:154.6px;top:52px;font-size:13px;color:#fff">L...</div><div class="t" style="left:201.6px;top:165px;font-size:13px;color:#fff">E....</div><div class="t" style="left:95.4px;top:174px;font-size:13px;color:#fff">S...</div><div class="t" style="left:121.4px;top:185.4px;font-size:13px;color:#fff">CI...</div><div class="t" style="left:99.5px;top:128px;font-size:11.5px;color:#fff">(</div><div class="t" style="left:155px;top:130px;font-size:11.5px;color:#fff">..</div><div class="t" style="left:187px;top:178px;font-size:11.5px;color:#fff">..</div><div class="t" style="left:190.5px;top:36.3px;font-size:21px;font-weight:bold;color:#c3c3c6;opacity:.62;letter-spacing:2px">AKV&#926;LON</div><!--Ep6-->
</div>
<div class="panel" id="p7" style="left:341px;top:480px;width:437px;height:243px"><div class="ptitle" style="letter-spacing:0.98px;padding-left:0.98px">YTD Actuals per Expense Type</div>
<!--Bp7--><svg class="abs" style="left:0;top:0" width="437" height="243" viewBox="341 480 437 243"><path d="M559.60 533.00 A79.8 79.8 0 1 1 479.98 607.51 L511.91 609.63 A47.8 47.8 0 1 0 559.60 565.00 Z" fill="#116bb8"/><path d="M479.98 607.51 A79.8 79.8 0 0 1 557.65 533.02 L558.43 565.01 A47.8 47.8 0 0 0 511.91 609.63 Z" fill="#a48602"/><path d="M557.65 533.02 A79.8 79.8 0 0 1 559.60 533.00 L559.60 565.00 A47.8 47.8 0 0 0 558.43 565.01 Z" fill="#c2543c"/><path d="M558.2 530.5 L558.2 522.4 L543.6 522.4" fill="none" stroke="#8d959c" stroke-width="1"/><path d="M503 553.6 L497.3 547.4 L482.8 547.4" fill="none" stroke="#8d959c" stroke-width="1"/><path d="M615.5 673.6 L620.5 679.3 L635 679.3" fill="none" stroke="#8d959c" stroke-width="1"/></svg><div class="blur" style="left:139px;top:31px;width:59.9px;height:20.5px;background:#c5d1dc"><div class="abs" style="left:-10px;top:-2px;width:50px;height:22px;background:#bfcbd6;filter:blur(7px)"></div></div><div class="blur" style="left:19.4px;top:27px;width:119.6px;height:54px;background:#cad7e3"><div class="abs" style="left:35px;top:4px;width:110px;height:18px;background:#bcc8d3;filter:blur(8px)"></div><div class="abs" style="left:6px;top:26px;width:100px;height:18px;background:#bfcbd6;filter:blur(8px)"></div></div><div class="abs" style="left:300.1px;top:176.9px;width:130.8px;height:39.7px;background:linear-gradient(115deg,#bfcbd7 0%,#bfcbd7 35%,#c7d3df 70%,#cbd8e4 100%)"></div><!--Ep7-->
</div>
<div class="panel" id="p8" style="left:787px;top:480px;width:314px;height:243px"><div class="ptitle" style="letter-spacing:1.17px;padding-left:1.17px">Posted Amount by Account</div>
<!--Bp8--><svg class="abs" style="left:0;top:0" width="314" height="243" viewBox="787 480 314 243"><circle cx="910.5" cy="615.1" r="35.2" fill="#116bb8"/><circle cx="981" cy="615.1" r="33.3" fill="#12239e"/><circle cx="947.7" cy="669.5" r="28.2" fill="#e8703a"/><circle cx="947.7" cy="564.3" r="25.9" fill="#6b007b"/><circle cx="899.8" cy="559" r="20.3" fill="#e044a7"/><circle cx="992" cy="565.2" r="16.3" fill="#d9b300"/><circle cx="870.2" cy="582.1" r="15.5" fill="#3599b8"/><circle cx="899.8" cy="669.5" r="17.5" fill="#744ec2"/><circle cx="993.1" cy="664.7" r="15.5" fill="#d64550"/><circle cx="871.6" cy="649.7" r="15.5" fill="#dfbfbf"/><circle cx="1016.8" cy="646.4" r="12.7" fill="#6b7a7b"/><circle cx="1016.8" cy="584.4" r="12.7" fill="#4ac5bb"/><circle cx="921.8" cy="535" r="10.4" fill="#f4d25a"/><circle cx="977.9" cy="540.4" r="10.4" fill="#fb8281"/><circle cx="959.5" cy="529.4" r="8.5" fill="#168980"/><circle cx="940.7" cy="528.6" r="7.9" fill="#c0504d"/><circle cx="950" cy="516.7" r="5.9" fill="#222"/><circle cx="904.6" cy="531.4" r="5.6" fill="#8b2e2e"/><circle cx="996.2" cy="540.7" r="6.2" fill="#1a5b66"/><circle cx="1023.8" cy="606.6" r="9" fill="#c590b5"/><circle cx="1028.9" cy="625.8" r="9" fill="#28738a"/><circle cx="1034.5" cy="594.2" r="5.6" fill="#8b6914"/><circle cx="1017.6" cy="561" r="7.9" fill="#b8921e"/><circle cx="1009.1" cy="550.5" r="4.2" fill="#fe9666"/><circle cx="1008.3" cy="540.4" r="4.2" fill="#9acd32"/><circle cx="859.5" cy="606" r="8.5" fill="#a78f8f"/><circle cx="864.6" cy="624.4" r="9.3" fill="#fdab89"/><circle cx="851.3" cy="593.4" r="4.2" fill="#2e3333"/><circle cx="850.5" cy="618.2" r="4.5" fill="#4a3333"/><circle cx="853.8" cy="636.5" r="5" fill="#2a2a2a"/><circle cx="870.8" cy="558.7" r="5.6" fill="#7a4a6e"/><circle cx="873.9" cy="673.1" r="7" fill="#3a4444"/><circle cx="915.9" cy="693.4" r="9.9" fill="#7f898a"/><circle cx="897.8" cy="694" r="5.6" fill="#16665a"/><circle cx="982.4" cy="689.2" r="9.9" fill="#a4ddee"/><circle cx="999.3" cy="687" r="5.6" fill="#7a6a66"/><circle cx="1018.2" cy="668.6" r="8.5" fill="#2e3b3b"/><circle cx="1009.7" cy="680.7" r="4" fill="#1170c0"/><circle cx="967.4" cy="699.9" r="6.5" fill="#6a9ba8"/><circle cx="953.9" cy="703.9" r="4.8" fill="#4a6a78"/><circle cx="942.9" cy="708.9" r="4.8" fill="#7a4a2e"/><circle cx="932.2" cy="701.9" r="5.9" fill="#c0714d"/><circle cx="1035.1" cy="640.7" r="4.2" fill="#6a3a5a"/><circle cx="1037.9" cy="613.1" r="4" fill="#222"/><circle cx="972.5" cy="524.3" r="3.7" fill="#666"/><circle cx="929.4" cy="521.5" r="3.4" fill="#9ba8e6"/><circle cx="978.1" cy="703.9" r="2.8" fill="#c06a8a"/><circle cx="994.8" cy="695.7" r="2.8" fill="#c5e06a"/><circle cx="1018.3" cy="619.0" r="3.2" fill="#4a5a2a"/><circle cx="871.4" cy="611.3" r="3.2" fill="#3d2b4f"/><circle cx="1015.6" cy="628.1" r="3.2" fill="#2e3b3b"/><circle cx="874.0" cy="603.5" r="2.5" fill="#8b6914"/><circle cx="943.3" cy="700.2" r="2.5" fill="#744ec2"/><circle cx="883.4" cy="682.6" r="2.5" fill="#b6776a"/><circle cx="934.8" cy="537.6" r="2.5" fill="#1a3a5a"/><circle cx="1032.4" cy="586.0" r="2.5" fill="#2a2a2a"/><circle cx="1036.6" cy="605.0" r="2.5" fill="#e044a7"/><circle cx="920.5" cy="548.5" r="1.8" fill="#8b6914"/><circle cx="890.6" cy="646.9" r="1.8" fill="#f4d25a"/><circle cx="890.4" cy="651.6" r="1.8" fill="#333b3b"/><circle cx="889.5" cy="686.9" r="1.8" fill="#9acd32"/><circle cx="990.7" cy="534.1" r="1.8" fill="#4a3333"/><circle cx="977.4" cy="675.6" r="1.8" fill="#73b761"/><circle cx="878.3" cy="550.7" r="1.8" fill="#b6776a"/><circle cx="977.2" cy="554.1" r="1.8" fill="#7a5c6e"/><circle cx="949.9" cy="535.1" r="1.8" fill="#d64550"/><circle cx="1003.5" cy="544.9" r="1.8" fill="#fe9666"/><circle cx="958.3" cy="698.3" r="1.8" fill="#2e3b3b"/><circle cx="893.9" cy="581.2" r="1.8" fill="#8b2e2e"/><circle cx="1029.1" cy="637.6" r="1.8" fill="#222"/><circle cx="998.1" cy="584.0" r="1.8" fill="#f4d25a"/><circle cx="964.9" cy="542.0" r="1.8" fill="#6b6b2a"/><circle cx="1013.9" cy="600.1" r="1.3" fill="#dfbfbf"/><circle cx="1028.4" cy="573.0" r="1.3" fill="#12239e"/><circle cx="887.4" cy="578.4" r="1.3" fill="#5f6b6d"/><circle cx="1024.6" cy="570.9" r="1.3" fill="#6b6b2a"/><circle cx="879.3" cy="680.7" r="1.3" fill="#a66999"/><circle cx="903.7" cy="689.7" r="1.3" fill="#9acd32"/><circle cx="1001.5" cy="586.5" r="1.3" fill="#a66999"/><circle cx="895.6" cy="537.1" r="1.3" fill="#222"/><circle cx="985.8" cy="530.3" r="1.3" fill="#7a5c6e"/><circle cx="969.7" cy="690.3" r="1.3" fill="#dfbfbf"/><circle cx="950.2" cy="524.3" r="1.3" fill="#5f6b6d"/><circle cx="976.4" cy="699.4" r="1.3" fill="#e8703a"/><circle cx="965.6" cy="537.9" r="1.3" fill="#5f6b6d"/><circle cx="921.4" cy="554.1" r="1.3" fill="#4a3333"/><circle cx="1026.8" cy="659.2" r="1.3" fill="#e8703a"/><circle cx="905.4" cy="698.3" r="1.3" fill="#d9b300"/><circle cx="867.7" cy="666.8" r="1.3" fill="#16665a"/><circle cx="876.5" cy="631.6" r="1.3" fill="#b6776a"/><circle cx="909.8" cy="536.5" r="1.3" fill="#12239e"/><circle cx="912.5" cy="527.2" r="1.3" fill="#b6776a"/><path d="M848.1 623.2h1.15M850.5 623.2h1.15M937.3 514.2h1.15M939.7 514.2h1.15M942.1 514.2h1.15M1023.8 558.8h1.15M1026.2 558.8h1.15M1028.6 558.8h1.15M1017.2 668.6h1.15M1019.6 668.6h1.15M1022.0 668.6h1.15M985.2 544.6h1.15M987.6 544.6h1.15M990.0 544.6h1.15M985.2 527.4h1.15M987.6 527.4h1.15M913.0 683.0h1.15M915.4 683.0h1.15M917.8 683.0h1.15M906.6 688.4h1.15M909.0 688.4h1.15M998.1 686.4h1.15M1000.5 686.4h1.15M1002.9 686.4h1.15M854.8 630.8h1.15M857.2 630.8h1.15M864.3 674.2h1.15M866.7 674.2h1.15M1000.6 660.0h1.15M1003.0 660.0h1.15M1005.4 660.0h1.15M992.8 530.3h1.15M995.2 530.3h1.15M992.2 687.7h1.15M994.6 687.7h1.15M997.0 687.7h1.15M903.8 700.7h1.15M906.2 700.7h1.15M908.6 700.7h1.15M899.5 699.8h1.15M901.9 699.8h1.15M904.3 699.8h1.15M934.3 522.6h1.15M936.7 522.6h1.15M939.1 522.6h1.15M844.7 602.7h1.15M847.1 602.7h1.15M871.8 563.0h1.15M874.2 563.0h1.15M876.6 563.0h1.15M1041.3 620.6h1.15M1043.7 620.6h1.15M1027.6 632.0h1.15M1030.0 632.0h1.15M1032.4 632.0h1.15M1037.1 588.6h1.15M1039.5 588.6h1.15M1041.9 588.6h1.15M880.9 669.4h1.15M986.6 696.1h1.15M989.0 696.1h1.15M991.4 696.1h1.15M859.7 629.9h1.15M862.1 629.9h1.15M935.0 540.8h1.15M959.0 519.4h1.15M961.4 519.4h1.15M963.8 519.4h1.15M855.0 622.4h1.15M857.4 622.4h1.15M859.8 622.4h1.15M1029.8 608.8h1.15M1032.2 608.8h1.15M1034.6 608.8h1.15M909.5 524.0h1.15M911.9 524.0h1.15M914.3 524.0h1.15M995.5 527.8h1.15M997.9 527.8h1.15M1000.3 527.8h1.15M970.5 694.3h1.15M972.9 694.3h1.15M975.3 694.3h1.15M923.7 523.3h1.15M926.1 523.3h1.15M928.5 523.3h1.15M972.1 700.7h1.15M974.5 700.7h1.15M976.9 700.7h1.15M950.6 698.5h1.15M953.0 698.5h1.15M905.1 706.3h1.15M907.5 706.3h1.15M909.9 706.3h1.15M849.8 630.1h1.15M852.2 630.1h1.15M854.6 630.1h1.15M965.4 530.1h1.15M967.8 530.1h1.15M970.2 530.1h1.15M1029.1 645.8h1.15M1031.5 645.8h1.15M1033.9 645.8h1.15M999.0 535.1h1.15M1001.4 535.1h1.15M1003.8 535.1h1.15M861.5 664.6h1.15M863.9 664.6h1.15M866.3 664.6h1.15M986.4 692.4h1.15M988.8 692.4h1.15M991.2 692.4h1.15M872.4 661.3h1.15M874.8 661.3h1.15M877.2 661.3h1.15M927.8 691.4h1.15M1020.8 669.7h1.15M1023.2 669.7h1.15M1025.6 669.7h1.15M1020.3 582.6h1.15M1022.7 582.6h1.15M845.7 623.5h1.15M848.1 623.5h1.15M1016.7 613.4h1.15M1019.1 613.4h1.15M1021.5 613.4h1.15M952.3 698.8h1.15M954.7 698.8h1.15M957.3 527.7h1.15M959.7 527.7h1.15M962.1 527.7h1.15M863.7 667.1h1.15M866.1 667.1h1.15M868.5 667.1h1.15M915.9 522.5h1.15M918.3 522.5h1.15M920.7 522.5h1.15M1035.5 592.7h1.15M1037.9 592.7h1.15M1040.3 592.7h1.15M861.3 659.5h1.15M863.7 659.5h1.15M866.1 659.5h1.15M860.2 644.0h1.15M862.6 644.0h1.15M865.0 644.0h1.15M989.8 669.6h1.15M992.2 669.6h1.15M873.1 607.2h1.15M875.5 607.2h1.15M921.9 683.4h1.15M1000.0 692.2h1.15M1002.4 692.2h1.15M1004.8 692.2h1.15M965.6 704.4h1.15M968.0 704.4h1.15M970.4 704.4h1.15M987.6 685.0h1.15M990.0 685.0h1.15M992.4 685.0h1.15M912.5 541.4h1.15M914.9 541.4h1.15M917.3 541.4h1.15M888.7 691.6h1.15M891.1 691.6h1.15M893.5 691.6h1.15M1032.8 660.1h1.15M1035.2 660.1h1.15M1037.6 660.1h1.15M913.0 708.1h1.15M915.4 708.1h1.15M1033.0 568.8h1.15M1035.4 568.8h1.15M1037.8 568.8h1.15M882.1 673.2h1.15M978.5 677.0h1.15M980.9 677.0h1.15M983.3 677.0h1.15M911.5 694.7h1.15M913.9 694.7h1.15M916.3 694.7h1.15M1019.2 670.5h1.15M1021.6 670.5h1.15M1024.0 670.5h1.15M956.8 521.3h1.15M959.2 521.3h1.15M994.0 691.5h1.15M996.4 691.5h1.15M998.8 691.5h1.15M1033.1 622.5h1.15M1035.5 622.5h1.15M1037.9 622.5h1.15M947.9 517.6h1.15M950.3 517.6h1.15M929.9 542.3h1.15M932.3 542.3h1.15M906.4 522.7h1.15M908.8 522.7h1.15M911.2 522.7h1.15M907.1 532.8h1.15M909.5 532.8h1.15M911.9 532.8h1.15M1007.7 558.7h1.15M1010.1 558.7h1.15M1012.5 558.7h1.15M1027.3 643.6h1.15M1029.7 643.6h1.15M1032.1 643.6h1.15M947.0 519.4h1.15M949.6 519.4h1.15M952.2 519.4h1.15M901.6 533.9h1.15M904.2 533.9h1.15M906.8 533.9h1.15M993.2 543.5h1.15M995.8 543.5h1.15M998.4 543.5h1.15M1031.5 596.7h1.15M1034.1 596.7h1.15M1036.7 596.7h1.15M847.5 620.2h1.15M850.1 620.2h1.15M852.7 620.2h1.15M850.8 638.8h1.15M853.4 638.8h1.15M856.0 638.8h1.15M867.8 561.2h1.15M870.4 561.2h1.15M873.0 561.2h1.15M870.9 676.2h1.15M873.5 676.2h1.15M876.1 676.2h1.15M894.8 696.5h1.15M897.4 696.5h1.15M900.0 696.5h1.15M996.3 689.5h1.15M998.9 689.5h1.15M1001.5 689.5h1.15M964.4 702.8h1.15M967.0 702.8h1.15M969.6 702.8h1.15M950.9 706.1h1.15M953.5 706.1h1.15M956.1 706.1h1.15M939.9 711.1h1.15M942.5 711.1h1.15M945.1 711.1h1.15M929.2 704.6h1.15M931.8 704.6h1.15M934.4 704.6h1.15M1037.4 625.0h1.15M1037.0 627.6h1.15M1036.6 630.3h1.15M1035.5 635.6h1.15M1028.0 655.9h1.15M1025.5 660.6h1.15M1024.1 663.0h1.15M1017.9 671.8h1.15M1016.1 673.9h1.15M1014.4 675.9h1.15M1012.5 677.9h1.15M1008.7 681.8h1.15M1006.7 683.6h1.15M1004.7 685.3h1.15M996.0 691.8h1.15M993.7 693.2h1.15M986.6 697.2h1.15M984.2 698.4h1.15M981.7 699.5h1.15M974.1 702.3h1.15M966.3 704.5h1.15M963.6 705.1h1.15M961.0 705.6h1.15M958.3 706.0h1.15M952.9 706.7h1.15M950.2 706.9h1.15M944.8 707.0h1.15M939.4 706.8h1.15M920.8 703.8h1.15M915.6 702.2h1.15M908.0 699.3h1.15M903.1 697.0h1.15M900.7 695.8h1.15M896.0 693.1h1.15M891.5 690.1h1.15M889.3 688.5h1.15M883.1 683.4h1.15M877.2 677.7h1.15M863.1 658.0h1.15M861.8 655.6h1.15M859.5 650.7h1.15M858.5 648.2h1.15M855.9 640.5h1.15M854.5 635.3h1.15M852.3 621.9h1.15M852.0 611.1h1.15M852.6 603.0h1.15M853.0 600.4h1.15M854.5 592.4h1.15M865.9 565.0h1.15M867.4 562.8h1.15M870.5 558.3h1.15M872.1 556.2h1.15M873.9 554.1h1.15M875.6 552.1h1.15M883.3 544.4h1.15M889.6 539.3h1.15M894.0 536.2h1.15M901.0 532.1h1.15M903.4 530.8h1.15M908.3 528.5h1.15M910.8 527.5h1.15M931.7 522.0h1.15M934.4 521.6h1.15M937.1 521.3h1.15M945.2 521.0h1.15M953.3 521.4h1.15M958.6 522.0h1.15M961.3 522.4h1.15M979.5 527.6h1.15M986.9 531.0h1.15M994.0 534.9h1.15M1002.8 541.1h1.15M1008.9 546.5h1.15M1031.5 579.8h1.15M1036.6 598.0h1.15M1037.9 608.8h1.15M1032.7 652.2h1.15M1031.5 654.6h1.15M1018.5 675.1h1.15M1016.7 677.2h1.15M1011.1 683.0h1.15M1009.2 684.9h1.15M998.5 693.2h1.15M993.9 696.1h1.15M991.6 697.5h1.15M989.2 698.8h1.15M981.9 702.2h1.15M974.3 705.0h1.15M969.1 706.5h1.15M963.8 707.7h1.15M961.1 708.2h1.15M958.5 708.6h1.15M953.1 709.3h1.15M947.7 709.6h1.15M942.3 709.6h1.15M934.2 709.0h1.15M931.5 708.6h1.15M928.8 708.2h1.15M926.2 707.7h1.15M923.5 707.2h1.15M920.9 706.5h1.15M915.7 705.0h1.15M913.1 704.1h1.15M910.6 703.2h1.15M908.1 702.2h1.15M905.6 701.1h1.15M889.2 691.6h1.15M887.1 690.0h1.15M884.9 688.4h1.15M882.8 686.6h1.15M880.8 684.8h1.15M876.9 681.1h1.15M875.0 679.1h1.15M869.8 673.0h1.15M868.1 670.8h1.15M865.0 666.4h1.15M863.6 664.1h1.15M855.3 647.1h1.15M854.4 644.5h1.15M853.6 642.0h1.15M852.1 636.8h1.15M851.5 634.1h1.15M851.0 631.5h1.15M850.6 628.8h1.15M849.9 604.5h1.15M850.6 599.2h1.15M852.2 591.2h1.15M853.6 586.0h1.15M868.2 557.1h1.15M871.5 552.9h1.15M878.9 545.0h1.15M882.9 541.3h1.15M885.0 539.6h1.15M887.1 537.9h1.15M898.4 530.5h1.15M903.2 528.0h1.15M905.6 526.9h1.15M923.6 520.8h1.15M928.9 519.8h1.15M931.5 519.4h1.15M936.9 518.7h1.15M939.6 518.6h1.15M945.0 518.4h1.15M961.2 519.8h1.15M981.9 525.8h1.15M989.3 529.3h1.15M1016.8 550.9h1.15M1023.5 559.4h1.15M1025.0 561.6h1.15M1039.0 596.5h1.15M1039.8 601.9h1.15M1043.2 616.4h1.15M1035.1 653.1h1.15M1032.8 658.0h1.15M1030.2 662.8h1.15M1027.4 667.4h1.15M1021.0 676.2h1.15M1017.5 680.3h1.15M1011.8 686.0h1.15M1007.7 689.6h1.15M1005.6 691.3h1.15M1003.4 692.9h1.15M1001.2 694.5h1.15M984.7 703.8h1.15M982.3 704.9h1.15M977.2 706.8h1.15M969.4 709.1h1.15M958.8 711.2h1.15M956.1 711.6h1.15M953.4 711.8h1.15M948.0 712.2h1.15M945.3 712.2h1.15M942.6 712.2h1.15M931.8 711.3h1.15M921.2 709.3h1.15M918.6 708.6h1.15M913.4 707.0h1.15M910.9 706.1h1.15M903.4 702.9h1.15M893.9 697.8h1.15M889.3 694.9h1.15M884.9 691.7h1.15M882.8 690.0h1.15M876.8 684.6h1.15M874.8 682.7h1.15M871.2 678.7h1.15M867.7 674.6h1.15M864.5 670.2h1.15M860.1 663.4h1.15M858.8 661.0h1.15M857.5 658.6h1.15M855.2 653.7h1.15M852.2 646.2h1.15M851.4 643.6h1.15M849.2 635.8h1.15M847.8 627.8h1.15M846.8 617.0h1.15M848.6 595.5h1.15M849.1 592.8h1.15M850.4 587.6h1.15M851.2 585.0h1.15M852.0 582.4h1.15M852.9 579.9h1.15M854.9 574.9h1.15M856.1 572.4h1.15M858.5 567.6h1.15M859.8 565.2h1.15M861.2 562.9h1.15M865.7 556.1h1.15M870.7 549.8h1.15M874.4 545.8h1.15M876.3 543.8h1.15M880.3 540.2h1.15M884.4 536.7h1.15M886.6 535.1h1.15M888.8 533.5h1.15M891.0 532.0h1.15M893.3 530.5h1.15M895.6 529.1h1.15M898.0 527.8h1.15M905.3 524.2h1.15M910.3 522.2h1.15M915.4 520.4h1.15M918.0 519.6h1.15M923.2 518.2h1.15M925.8 517.7h1.15M928.5 517.2h1.15M931.2 516.8h1.15M950.1 515.9h1.15M952.8 516.1h1.15M955.5 516.4h1.15M960.8 517.1h1.15M974.0 520.2h1.15M984.1 523.9h1.15M1009.2 539.7h1.15M1018.8 549.3h1.15M1020.6 551.3h1.15M1031.2 567.0h1.15M1042.6 602.9h1.15M1045.4 623.2h1.15M1044.3 631.2h1.15M1041.9 641.8h1.15M1038.4 652.0h1.15M1037.3 654.5h1.15M1036.2 657.0h1.15M1032.4 664.2h1.15M1028.1 671.0h1.15M1026.6 673.2h1.15M1023.3 677.5h1.15M1019.7 681.6h1.15M1017.9 683.6h1.15M1012.1 689.3h1.15M1005.8 694.4h1.15M999.1 699.0h1.15M992.1 703.1h1.15M982.3 707.7h1.15M977.2 709.5h1.15M969.4 711.8h1.15M964.1 713.0h1.15M956.1 714.2h1.15M950.7 714.6h1.15M939.9 714.7h1.15M937.2 714.5h1.15M934.5 714.2h1.15M929.1 713.5h1.15M923.8 712.5h1.15M918.5 711.3h1.15M905.8 706.8h1.15M900.8 704.6h1.15M884.7 694.8h1.15M880.4 691.4h1.15M878.4 689.6h1.15M874.4 686.0h1.15M867.1 678.0h1.15M863.8 673.7h1.15M862.2 671.5h1.15M855.3 659.9h1.15M852.9 655.0h1.15M851.9 652.5h1.15M845.0 626.4h1.15M844.2 612.9h1.15M844.6 604.8h1.15M844.9 602.1h1.15M847.4 588.8h1.15M848.9 583.6h1.15M850.7 578.5h1.15M853.8 571.0h1.15M856.2 566.2h1.15M857.6 563.8h1.15M865.1 552.6h1.15M870.3 546.4h1.15M880.0 537.0h1.15M882.1 535.2h1.15M884.2 533.6h1.15M925.9 515.0h1.15M931.2 514.1h1.15M942.0 513.2h1.15M947.4 513.2h1.15M986.7 522.2h1.15M996.3 527.2h1.15M1007.5 534.9h1.15M1027.8 556.5h1.15M1043.1 590.9h1.15M1044.7 598.9h1.15M1045.3 604.3h1.15" stroke="#fff" stroke-width="1.2" stroke-opacity=".95" fill="none"/><path d="M989.5 671.2h1.5M992.7 671.2h1.5M995.9 671.2h1.5M868.0 656.2h1.5M871.2 656.2h1.5M874.4 656.2h1.5M1013.2 651.7h1.5M1016.4 651.7h1.5M1019.6 651.7h1.5M1013.2 589.7h1.5M1016.4 589.7h1.5M1019.6 589.7h1.5M918.2 539.4h1.5M921.4 539.4h1.5M924.6 539.4h1.5M974.3 544.8h1.5M977.5 544.8h1.5M980.7 544.8h1.5M955.9 533.0h1.5M959.1 533.0h1.5M962.3 533.0h1.5M937.1 531.9h1.5M940.3 531.9h1.5M943.5 531.9h1.5M1020.2 610.4h1.5M1023.4 610.4h1.5M1026.6 610.4h1.5M1025.3 629.6h1.5M1028.5 629.6h1.5M1031.7 629.6h1.5M1014.0 564.3h1.5M1017.2 564.3h1.5M1020.4 564.3h1.5M855.9 609.6h1.5M859.1 609.6h1.5M862.3 609.6h1.5M861.0 628.3h1.5M864.2 628.3h1.5M867.4 628.3h1.5M912.3 697.6h1.5M915.5 697.6h1.5M918.7 697.6h1.5M978.8 693.4h1.5M982.0 693.4h1.5M985.2 693.4h1.5M1014.6 672.2h1.5M1017.8 672.2h1.5M1021.0 672.2h1.5M988.4 572.0h1.5M991.6 572.0h1.5M994.8 572.0h1.5M866.6 588.6h1.5M869.8 588.6h1.5M873.0 588.6h1.5" stroke="#fff" stroke-width="1.6" stroke-opacity=".92" fill="none"/><defs><filter id="sb2" x="-10%" y="-10%" width="120%" height="120%"><feGaussianBlur stdDeviation="1"/></filter></defs><rect x="883" y="603" width="53" height="32" fill="#3583cc" fill-opacity=".7" filter="url(#sb2)"/><rect x="955" y="604" width="45" height="28" fill="#3a49b4" fill-opacity=".7" filter="url(#sb2)"/><rect x="924" y="663" width="39" height="20" fill="#ef8a58" fill-opacity=".75" filter="url(#sb2)"/><rect x="931" y="558" width="23" height="16" fill="#84278f" fill-opacity=".85" filter="url(#sb2)"/><rect x="886" y="552" width="23" height="18" fill="#e65cb4" fill-opacity=".85" filter="url(#sb2)"/></svg><div class="t" style="left:104px;top:185px;font-size:12.5px;color:#fff">J...</div><div class="t" style="left:167.5px;top:81.5px;font-size:11.5px;color:#fff">..</div><div class="t" style="left:213px;top:140px;font-size:11.5px;color:#fff">..</div><div class="t" style="left:177px;top:187px;font-size:11.5px;color:#fff">..</div><div class="t" style="left:121.5px;top:78px;font-size:11.5px;color:#fff">.</div><div class="t" style="left:191.2px;top:36.3px;font-size:21px;font-weight:bold;color:#c3c3c6;opacity:.62;letter-spacing:2px">AKV&#926;LON</div><!--Ep8-->
</div>

<div id="gold"><!--Bgold--><div class="abs" style="left:57.3px;top:44.9px;width:258.2px;height:24.4px;background:#fff;border-bottom:1.2px solid #d9d6cc"></div><div class="abs" style="left:356.4px;top:44.9px;width:260.6px;height:24.4px;background:#fff;border-bottom:1.2px solid #d9d6cc"></div><div class="abs" style="left:677px;top:44.9px;width:319px;height:24.4px;background:#fff;border-bottom:1.2px solid #d9d6cc"></div><div class="abs" style="left:1050.6px;top:44.9px;width:239.0px;height:24.4px;background:#fff;border-bottom:1.2px solid #d9d6cc"></div><svg class="abs" style="left:0;top:0" width="1549" height="162" viewBox="12 731 1549 162"><path d="M303.4 760.3 L310.09999999999997 767.3 L316.79999999999995 760.3" fill="none" stroke="#4a431f" stroke-width="1.2"/><circle cx="90" cy="785.4" r="4.9" fill="none" stroke="#222" stroke-width="1.5"/><path d="M86.4 789.2 L79.4 795.8" stroke="#222" stroke-width="1.8" fill="none"/><rect x="79.89999999999999" y="806.2" width="15.2" height="15" fill="none" stroke="#dbcf9a" stroke-width="1.3"/><rect x="79.89999999999999" y="829.1" width="15.2" height="15" fill="none" stroke="#dbcf9a" stroke-width="1.3"/><rect x="79.89999999999999" y="852.4" width="15.2" height="15" fill="none" stroke="#dbcf9a" stroke-width="1.3"/><path d="M605.8 760.3 L612.5 767.3 L619.1999999999999 760.3" fill="none" stroke="#4a431f" stroke-width="1.2"/><circle cx="389.4" cy="785.4" r="4.9" fill="none" stroke="#222" stroke-width="1.5"/><path d="M385.79999999999995 789.2 L378.79999999999995 795.8" stroke="#222" stroke-width="1.8" fill="none"/><rect x="379.0" y="806.2" width="15.2" height="15" fill="none" stroke="#dbcf9a" stroke-width="1.3"/><rect x="379.0" y="829.1" width="15.2" height="15" fill="none" stroke="#dbcf9a" stroke-width="1.3"/><rect x="379.0" y="852.4" width="15.2" height="15" fill="none" stroke="#dbcf9a" stroke-width="1.3"/><rect x="619.5" y="800.8" width="8.9" height="23.4" fill="#b8ad8a" fill-opacity=".85"/><path d="M983.8 760.3 L990.5 767.3 L997.1999999999999 760.3" fill="none" stroke="#4a431f" stroke-width="1.2"/><circle cx="710" cy="785.4" r="4.9" fill="none" stroke="#222" stroke-width="1.5"/><path d="M706.4 789.2 L699.4 795.8" stroke="#222" stroke-width="1.8" fill="none"/><rect x="699.6" y="806.2" width="15.2" height="15" fill="none" stroke="#dbcf9a" stroke-width="1.3"/><rect x="699.6" y="829.1" width="15.2" height="15" fill="none" stroke="#dbcf9a" stroke-width="1.3"/><rect x="699.6" y="852.4" width="15.2" height="15" fill="none" stroke="#dbcf9a" stroke-width="1.3"/><rect x="998.8" y="800.8" width="8.9" height="23.4" fill="#b8ad8a" fill-opacity=".85"/><path d="M1277.8 760.3 L1284.5 767.3 L1291.2 760.3" fill="none" stroke="#4a431f" stroke-width="1.2"/><circle cx="1083.6" cy="785.4" r="4.9" fill="none" stroke="#222" stroke-width="1.5"/><path d="M1080.0 789.2 L1073.0 795.8" stroke="#222" stroke-width="1.8" fill="none"/><rect x="1073.1" y="806.2" width="15.2" height="15" fill="none" stroke="#dbcf9a" stroke-width="1.3"/><rect x="1073.1" y="829.1" width="15.2" height="15" fill="none" stroke="#dbcf9a" stroke-width="1.3"/><rect x="1073.1" y="852.4" width="15.2" height="15" fill="none" stroke="#dbcf9a" stroke-width="1.3"/><rect x="1291.3" y="800.8" width="8.9" height="23.4" fill="#b8ad8a" fill-opacity=".85"/><path d="M1461.1 760.3 L1467.7 767.3 L1474.3 760.3" fill="none" stroke="#4a431f" stroke-width="1.2"/><circle cx="1389.8" cy="788.3" r="7" fill="none" stroke="#e0d6a8" stroke-width="1.2"/><circle cx="1389.8" cy="811.1" r="7" fill="none" stroke="#222" stroke-width="1.4"/><circle cx="1389.8" cy="811.1" r="4.7" fill="#222"/><circle cx="1389.8" cy="834.2" r="7" fill="none" stroke="#e0d6a8" stroke-width="1.2"/><path d="M1535.71 798.18 A20.4 20.4 0 1 0 1542.17 812.03" fill="none" stroke="#fff" stroke-width="4"/><path d="M1530 801.6 L1541 801.6 L1541 792" fill="none" stroke="#fff" stroke-width="4" stroke-linejoin="miter"/></svg><div class="t" style="left:67.7px;top:26px;font-size:16px;color:#151515;letter-spacing:0.6px;-webkit-text-stroke:0.45px #151515">Expense Type</div><div class="t" style="left:93.8px;top:49.2px;font-size:16.4px;color:#757575">Search</div><div class="t" style="left:367.0px;top:26px;font-size:16px;color:#2a2410;letter-spacing:0.78px;-webkit-text-stroke:0.25px #2a2410">Department/Division/Unit</div><div class="t" style="left:392.9px;top:49.2px;font-size:16.4px;color:#757575">Search</div><div class="t" style="left:687.3px;top:26px;font-size:16px;color:#2a2410;letter-spacing:0.76px;-webkit-text-stroke:0.25px #2a2410">Account Description</div><div class="t" style="left:713.6px;top:49.2px;font-size:16.4px;color:#757575">Search</div><div class="t" style="left:1060.7px;top:26px;font-size:16px;color:#2a2410;letter-spacing:0.95px;-webkit-text-stroke:0.25px #2a2410">Building</div><div class="t" style="left:1086.6px;top:49.2px;font-size:16.4px;color:#757575">Search</div><div class="t" style="left:1370px;top:26px;font-size:16px;color:#2a2410;letter-spacing:.45px;-webkit-text-stroke:.25px #2a2410">Year</div><div class="t" style="left:1395.4px;top:49.6px;font-size:16px;color:#151515">2020</div><div class="t" style="left:1395.4px;top:72.7px;font-size:16px;color:#151515">2021</div><div class="t" style="left:1395.4px;top:95.8px;font-size:16px;color:#151515">2022</div><div class="blur" style="left:91.2px;top:73.9px;width:151.6px;height:62.8px;background:#b4a046"><div class="abs" style="left:-5px;top:-2px;width:160px;height:20px;background:#9b8938;filter:blur(7px)"></div><div class="abs" style="left:100px;top:4px;width:50px;height:16px;background:#a08d3b;filter:blur(7px)"></div><div class="abs" style="left:-5px;top:22px;width:105px;height:18px;background:#9f8c3a;filter:blur(7px)"></div><div class="abs" style="left:-5px;top:44px;width:60px;height:20px;background:#978636;filter:blur(7px)"></div><div class="abs" style="left:112px;top:26px;width:60px;height:45px;background:#bea949;filter:blur(10px)"></div><div class="abs" style="left:62px;top:48px;width:60px;height:24px;background:#b9a547;filter:blur(9px)"></div></div><div class="blur" style="left:393px;top:75.2px;width:59px;height:59.8px;background:#b4a046"><div class="abs" style="left:2px;top:2px;width:55px;height:58px;background:#a3913e;filter:blur(6px)"></div><div class="abs" style="left:8px;top:36px;width:42px;height:24px;background:#978636;filter:blur(8px)"></div></div><div class="blur" style="left:713px;top:74px;width:262.5px;height:62.5px;background:#b4a046"><div class="abs" style="left:-5px;top:-2px;width:268px;height:19px;background:#9d8b39;filter:blur(7px)"></div><div class="abs" style="left:-5px;top:23px;width:255px;height:17px;background:#a08d3b;filter:blur(7px)"></div><div class="abs" style="left:-5px;top:45px;width:165px;height:20px;background:#9b8938;filter:blur(7px)"></div><div class="abs" style="left:170px;top:46px;width:100px;height:25px;background:#b9a547;filter:blur(9px)"></div></div><div class="blur" style="left:1088px;top:74px;width:117.5px;height:65px;background:#b4a046"><div class="abs" style="left:-5px;top:-2px;width:125px;height:20px;background:#9f8c3a;filter:blur(7px)"></div><div class="abs" style="left:-5px;top:24px;width:122px;height:18px;background:#a08d3b;filter:blur(7px)"></div><div class="abs" style="left:-5px;top:47px;width:120px;height:22px;background:#9b8938;filter:blur(7px)"></div></div><!--Egold--></div>
</body>
</html>
